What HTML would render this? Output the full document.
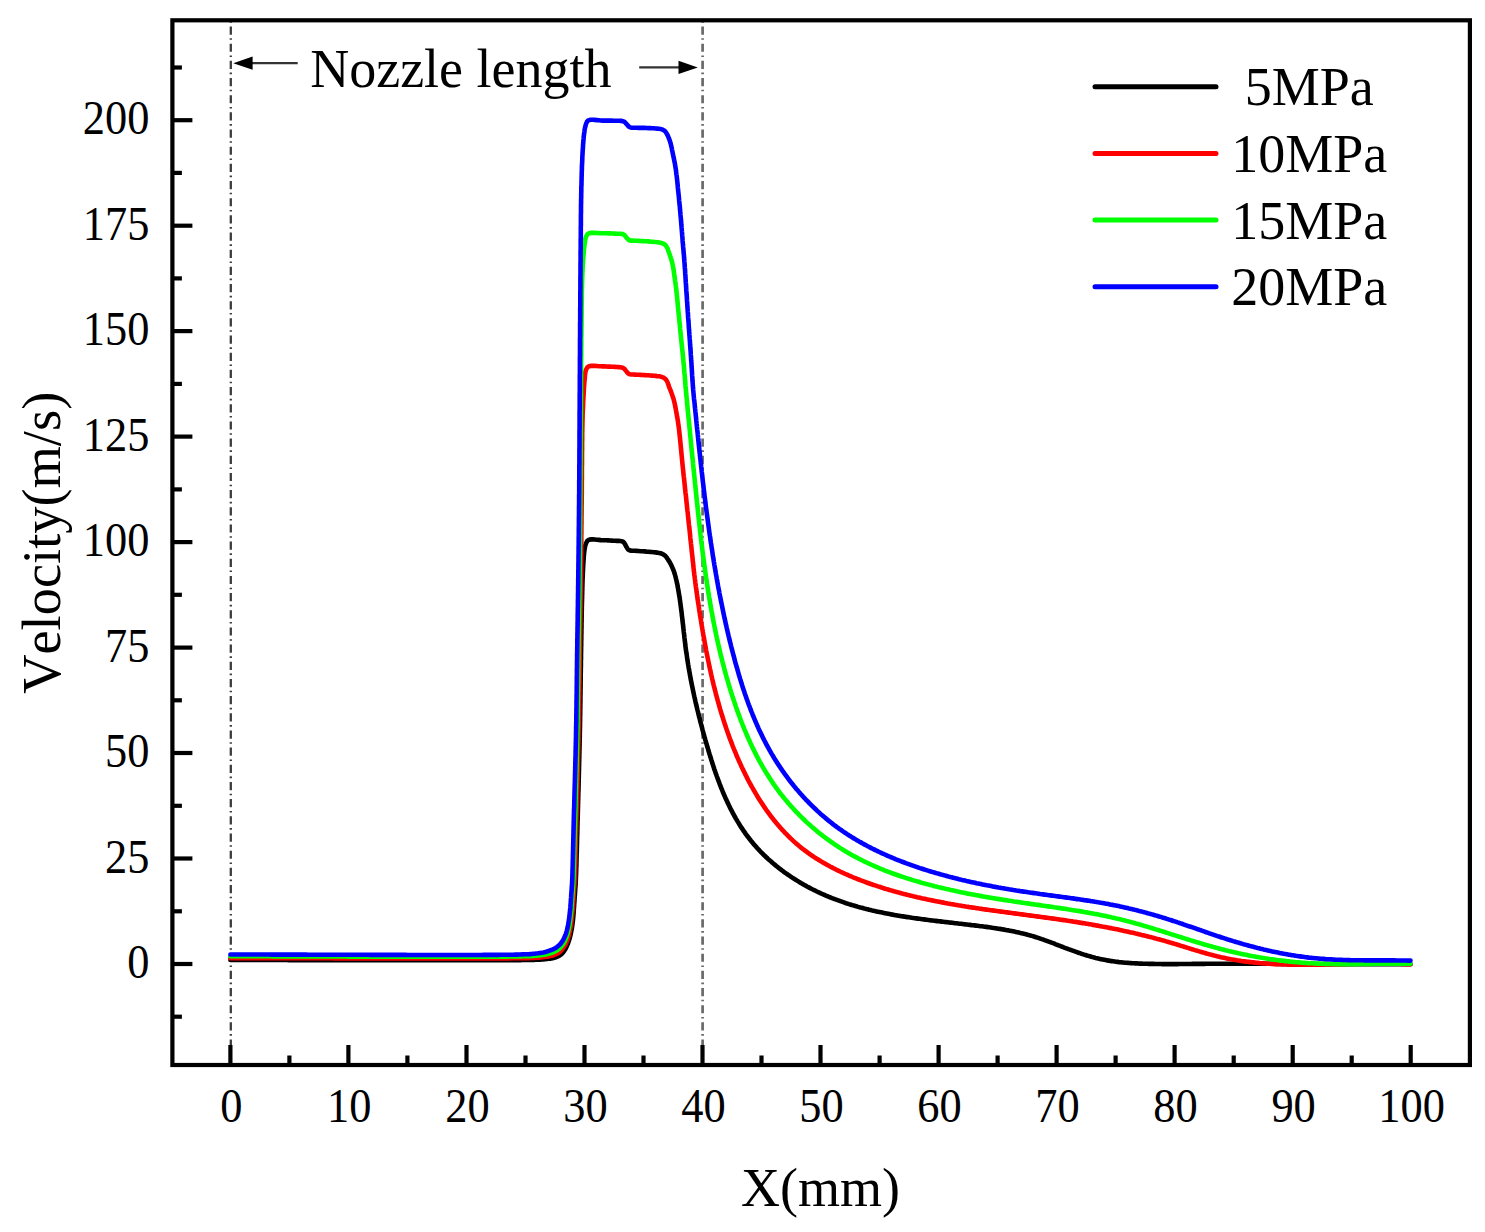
<!DOCTYPE html>
<html lang="en"><head><meta charset="utf-8"><title>Velocity along nozzle axis</title>
<style>html,body{margin:0;padding:0;background:#fff}svg{display:block}</style></head>
<body>
<svg width="1485" height="1232" viewBox="0 0 1485 1232">
<rect width="1485" height="1232" fill="#fff"/>
<line x1="230.8" y1="20.3" x2="230.8" y2="1046" stroke="#3c3c3c" stroke-width="2.3" stroke-dasharray="8.2 3.57 1.6 3.8" stroke-dashoffset="11"/>
<line x1="702.6" y1="20.3" x2="702.6" y2="1046" stroke="#6a6a6a" stroke-width="2.7" stroke-dasharray="8.2 3.57 1.6 3.8" stroke-dashoffset="11"/>
<path d="M230.4,960.0 L232.4,960.0 L234.4,960.0 L236.4,960.0 L238.5,960.0 L240.5,960.0 L242.6,960.0 L244.7,960.0 L246.8,960.0 L248.9,960.0 L251.1,960.0 L253.2,960.0 L255.4,960.0 L257.5,960.0 L259.7,960.0 L261.9,960.0 L264.1,960.0 L266.3,960.0 L268.5,960.0 L270.8,960.0 L273.0,960.0 L275.3,960.0 L277.5,960.0 L279.8,960.0 L282.1,960.0 L284.4,960.0 L286.7,960.0 L289.0,960.1 L291.3,960.1 L293.6,960.1 L295.9,960.1 L298.3,960.1 L300.6,960.1 L302.9,960.1 L305.3,960.1 L307.7,960.1 L310.0,960.1 L312.4,960.1 L314.7,960.1 L317.1,960.1 L319.5,960.1 L321.9,960.1 L324.2,960.1 L326.6,960.1 L329.0,960.1 L331.4,960.1 L333.8,960.1 L336.2,960.1 L338.6,960.1 L341.0,960.1 L343.3,960.1 L345.7,960.2 L348.1,960.2 L350.5,960.2 L352.9,960.2 L355.3,960.2 L357.7,960.2 L360.1,960.2 L362.4,960.2 L364.8,960.2 L367.2,960.2 L369.6,960.2 L371.9,960.2 L374.3,960.2 L376.6,960.2 L379.0,960.2 L381.3,960.2 L383.7,960.2 L386.0,960.2 L388.3,960.2 L390.7,960.2 L393.0,960.2 L395.3,960.2 L397.6,960.2 L399.9,960.2 L402.2,960.2 L404.5,960.2 L406.7,960.3 L409.0,960.3 L411.2,960.3 L413.5,960.3 L415.7,960.3 L417.9,960.3 L420.1,960.3 L422.3,960.3 L424.5,960.3 L426.7,960.3 L428.9,960.3 L431.0,960.3 L433.2,960.3 L435.3,960.3 L437.4,960.3 L439.5,960.3 L441.6,960.3 L443.6,960.3 L445.7,960.3 L447.7,960.3 L449.8,960.3 L451.8,960.3 L453.8,960.3 L455.7,960.3 L457.7,960.3 L459.6,960.3 L461.6,960.3 L463.5,960.3 L465.4,960.3 L467.2,960.3 L469.1,960.3 L470.9,960.3 L472.7,960.3 L474.5,960.3 L476.3,960.3 L478.1,960.3 L479.8,960.3 L481.5,960.3 L483.2,960.3 L484.9,960.3 L486.5,960.3 L488.2,960.2 L489.8,960.2 L491.4,960.2 L492.9,960.2 L494.4,960.2 L496.0,960.2 L497.4,960.2 L498.9,960.2 L500.3,960.2 L501.8,960.2 L503.1,960.2 L504.5,960.2 L505.8,960.2 L507.1,960.2 L508.4,960.2 L509.7,960.2 L510.9,960.2 L512.1,960.1 L513.3,960.1 L514.4,960.1 L515.5,960.1 L516.6,960.1 L517.7,960.1 L518.7,960.1 L519.7,960.1 L520.6,960.1 L521.6,960.0 L522.5,960.0 L523.4,960.0 L524.2,960.0 L525.0,960.0 L527.7,960.0 L530.1,959.9 L532.2,959.9 L534.0,959.9 L535.7,959.8 L537.2,959.8 L538.7,959.7 L540.1,959.6 L541.6,959.5 L543.1,959.4 L545.1,959.2 L547.1,959.0 L549.0,958.8 L550.8,958.6 L552.6,958.2 L554.2,957.8 L556.1,957.2 L558.0,956.4 L559.7,955.5 L561.2,954.4 L562.3,953.3 L563.4,952.1 L564.3,950.7 L565.2,949.3 L566.0,947.8 L566.8,946.2 L567.5,944.5 L568.2,942.8 L568.8,941.0 L569.4,939.2 L569.9,937.3 L570.4,935.5 L570.8,933.5 L571.2,931.6 L571.6,929.6 L571.9,927.8 L572.2,926.0 L572.4,924.2 L572.7,922.3 L572.9,920.4 L573.1,918.3 L573.3,916.7 L573.4,914.9 L573.6,913.2 L573.7,911.3 L573.8,909.5 L574.0,907.6 L574.1,905.7 L574.2,903.8 L574.4,901.9 L574.5,900.0 L574.6,898.3 L574.7,896.6 L574.9,894.9 L575.0,893.2 L575.1,891.6 L575.2,889.9 L575.3,888.1 L575.5,886.3 L575.6,884.3 L575.7,882.2 L575.8,880.0 L575.9,878.6 L575.9,877.1 L576.0,875.5 L576.1,873.9 L576.1,872.3 L576.2,870.6 L576.2,868.8 L576.3,867.1 L576.4,865.2 L576.4,863.4 L576.5,861.5 L576.5,859.6 L576.6,857.6 L576.6,855.7 L576.7,853.7 L576.8,851.6 L576.8,849.6 L576.9,847.5 L576.9,845.5 L577.0,843.4 L577.0,841.3 L577.1,839.1 L577.1,837.0 L577.2,834.9 L577.3,832.8 L577.3,830.6 L577.4,828.5 L577.4,826.4 L577.5,824.2 L577.5,822.1 L577.6,820.0 L577.7,818.2 L577.7,816.4 L577.8,814.5 L577.8,812.7 L577.9,810.8 L577.9,808.9 L578.0,807.0 L578.0,805.1 L578.1,803.2 L578.1,801.2 L578.2,799.3 L578.2,797.4 L578.3,795.4 L578.3,793.4 L578.4,791.4 L578.5,789.5 L578.5,787.5 L578.6,785.5 L578.6,783.5 L578.7,781.4 L578.7,779.4 L578.8,777.4 L578.8,775.4 L578.9,773.4 L578.9,771.3 L579.0,769.3 L579.0,767.3 L579.1,765.2 L579.1,763.2 L579.2,761.2 L579.2,759.1 L579.3,757.1 L579.3,755.1 L579.4,753.0 L579.4,751.0 L579.5,749.0 L579.5,747.0 L579.6,745.0 L579.6,743.0 L579.7,741.0 L579.7,739.0 L579.8,737.0 L579.8,735.0 L579.8,733.0 L579.9,731.0 L579.9,729.0 L580.0,727.0 L580.0,725.0 L580.0,723.0 L580.1,720.9 L580.1,718.9 L580.1,716.8 L580.2,714.8 L580.2,712.7 L580.2,710.7 L580.3,708.6 L580.3,706.5 L580.3,704.5 L580.4,702.4 L580.4,700.3 L580.4,698.3 L580.4,696.2 L580.5,694.2 L580.5,692.1 L580.5,690.1 L580.6,688.0 L580.6,686.0 L580.6,684.0 L580.6,682.0 L580.7,680.0 L580.7,678.0 L580.7,676.0 L580.7,674.0 L580.8,672.1 L580.8,670.2 L580.8,668.2 L580.9,666.3 L580.9,664.4 L580.9,662.6 L580.9,660.7 L581.0,658.9 L581.0,657.0 L581.0,655.3 L581.0,653.5 L581.1,651.7 L581.1,650.0 L581.1,647.8 L581.2,645.7 L581.2,643.6 L581.2,641.5 L581.3,639.4 L581.3,637.3 L581.3,635.3 L581.4,633.2 L581.4,631.2 L581.4,629.2 L581.5,627.3 L581.5,625.3 L581.5,623.4 L581.6,621.5 L581.6,619.6 L581.6,617.7 L581.7,615.9 L581.7,614.0 L581.7,612.2 L581.8,610.4 L581.8,608.6 L581.8,606.9 L581.9,605.1 L581.9,603.4 L582.0,601.7 L582.0,600.0 L582.1,597.9 L582.1,595.8 L582.2,593.8 L582.2,591.8 L582.3,589.9 L582.3,587.9 L582.4,586.0 L582.4,584.1 L582.5,582.3 L582.5,580.5 L582.6,578.7 L582.7,576.9 L582.8,575.1 L582.8,573.4 L582.9,571.7 L583.0,570.0 L583.1,568.0 L583.2,566.0 L583.3,564.0 L583.4,562.0 L583.6,560.0 L583.7,558.1 L583.8,556.3 L584.0,554.5 L584.1,552.9 L584.3,551.4 L584.5,550.0 L584.8,548.1 L585.1,546.4 L585.5,544.9 L586.0,543.5 L586.6,542.1 L587.3,540.9 L588.5,540.0 L589.7,539.6 L591.2,539.4 L592.9,539.4 L594.8,539.5 L596.8,539.7 L598.9,539.9 L600.8,540.1 L602.6,540.2 L604.4,540.3 L606.3,540.3 L608.2,540.4 L610.0,540.5 L611.8,540.6 L613.4,540.7 L615.0,540.8 L616.9,540.9 L618.6,540.9 L620.2,541.0 L621.5,541.2 L622.6,541.5 L623.6,542.2 L624.5,543.3 L625.5,545.0 L626.4,546.9 L627.4,548.5 L628.2,549.6 L629.0,550.1 L629.8,550.4 L631.2,550.6 L633.0,550.7 L635.0,550.8 L636.7,550.9 L638.5,551.0 L640.5,551.2 L642.5,551.3 L644.6,551.4 L646.5,551.6 L648.3,551.7 L650.2,551.9 L652.0,552.0 L653.8,552.2 L655.5,552.4 L657.0,552.6 L658.9,552.9 L660.5,553.3 L662.0,553.8 L663.6,554.6 L665.0,555.6 L666.3,557.0 L667.4,558.6 L668.2,559.9 L669.0,561.1 L669.8,562.3 L670.5,563.6 L671.1,564.9 L671.8,566.3 L672.4,567.6 L672.9,569.0 L673.5,570.3 L674.0,571.7 L674.4,573.1 L674.9,574.5 L675.3,576.0 L675.7,577.4 L676.0,578.8 L676.4,580.3 L676.7,581.8 L677.0,583.2 L677.4,584.7 L677.6,586.2 L677.9,587.7 L678.2,589.2 L678.4,590.7 L678.7,592.2 L678.9,593.7 L679.2,595.2 L679.4,596.7 L679.7,598.2 L679.9,599.7 L680.1,601.2 L680.3,602.7 L680.5,604.2 L680.7,605.7 L680.9,607.2 L681.1,608.7 L681.3,610.3 L681.5,611.8 L681.7,613.3 L681.8,614.8 L682.0,616.3 L682.2,617.8 L682.4,619.4 L682.5,620.9 L682.7,622.4 L682.9,623.9 L683.1,625.4 L683.2,626.9 L683.4,628.5 L683.6,630.0 L683.7,631.5 L683.9,633.0 L684.1,634.5 L684.3,636.0 L684.4,637.5 L684.6,639.0 L684.8,640.6 L685.0,642.1 L685.2,643.6 L685.3,645.1 L685.5,646.6 L685.7,648.1 L685.9,649.6 L686.1,651.1 L686.3,652.5 L686.6,654.0 L686.8,655.5 L687.0,657.0 L687.2,658.5 L687.4,660.0 L687.7,661.5 L687.9,662.9 L688.1,664.4 L688.4,665.9 L688.6,667.4 L688.9,668.8 L689.1,670.3 L689.4,671.8 L689.7,673.2 L689.9,674.7 L690.2,676.2 L690.5,677.6 L690.7,679.1 L691.0,680.5 L691.3,682.0 L691.6,683.5 L691.9,684.9 L692.2,686.4 L692.5,687.8 L692.8,689.3 L693.1,690.7 L693.4,692.2 L693.7,693.6 L694.0,695.1 L694.3,696.5 L694.7,698.0 L695.0,699.4 L695.3,700.9 L695.6,702.3 L696.0,703.8 L696.3,705.2 L696.7,706.7 L697.0,708.1 L697.3,709.5 L697.7,711.0 L698.1,712.4 L698.4,713.9 L698.8,715.3 L699.1,716.8 L699.5,718.2 L699.9,719.7 L700.2,721.1 L700.6,722.5 L701.0,724.0 L701.4,725.4 L701.8,726.9 L702.2,728.3 L702.5,729.8 L702.9,731.2 L703.3,732.6 L703.7,734.1 L704.1,735.5 L704.5,737.0 L704.9,738.4 L705.3,739.9 L705.8,741.3 L706.2,742.8 L706.6,744.2 L707.0,745.7 L707.4,747.1 L707.9,748.6 L708.3,750.0 L708.7,751.5 L709.2,752.9 L709.6,754.4 L710.1,755.8 L710.5,757.3 L711.0,758.7 L711.4,760.2 L711.9,761.6 L712.3,763.1 L712.8,764.5 L713.3,766.0 L713.8,767.4 L714.2,768.9 L714.7,770.3 L715.2,771.7 L715.7,773.2 L716.2,774.6 L716.7,776.0 L717.3,777.5 L717.8,778.9 L718.3,780.3 L718.8,781.7 L719.4,783.2 L719.9,784.6 L720.5,786.0 L721.0,787.4 L721.6,788.8 L722.2,790.2 L722.7,791.6 L723.3,793.0 L723.9,794.4 L724.5,795.8 L725.1,797.1 L725.7,798.5 L726.4,799.9 L727.0,801.3 L727.6,802.6 L728.3,804.0 L728.9,805.3 L729.6,806.7 L730.2,808.0 L730.9,809.4 L731.6,810.7 L732.3,812.0 L733.0,813.4 L733.7,814.7 L734.4,816.0 L735.2,817.3 L735.9,818.6 L736.7,819.9 L737.4,821.1 L738.2,822.4 L739.0,823.7 L739.7,825.0 L740.5,826.2 L741.3,827.5 L742.2,828.7 L743.0,829.9 L743.8,831.2 L744.7,832.4 L745.5,833.6 L746.4,834.8 L747.3,836.0 L748.2,837.2 L749.1,838.3 L750.0,839.5 L750.9,840.7 L751.8,841.8 L752.8,843.0 L753.7,844.1 L754.7,845.2 L755.7,846.3 L756.7,847.5 L757.7,848.6 L758.7,849.6 L759.7,850.7 L760.7,851.8 L761.8,852.9 L762.8,853.9 L763.9,855.0 L765.0,856.0 L766.0,857.0 L767.1,858.0 L768.2,859.1 L769.3,860.1 L770.5,861.1 L771.6,862.0 L772.7,863.0 L773.9,864.0 L775.0,864.9 L776.2,865.9 L777.3,866.8 L778.5,867.8 L779.7,868.7 L780.9,869.6 L782.1,870.5 L783.3,871.4 L784.5,872.3 L785.7,873.1 L786.9,874.0 L788.2,874.9 L789.4,875.7 L790.7,876.6 L791.9,877.4 L793.2,878.2 L794.4,879.0 L795.7,879.8 L797.0,880.6 L798.3,881.4 L799.6,882.2 L800.9,883.0 L802.2,883.7 L803.5,884.5 L804.8,885.2 L806.1,885.9 L807.4,886.7 L808.8,887.4 L810.1,888.1 L811.4,888.8 L812.8,889.5 L814.1,890.1 L815.5,890.8 L816.8,891.5 L818.2,892.1 L819.5,892.7 L820.9,893.4 L822.3,894.0 L823.7,894.6 L825.0,895.2 L826.4,895.8 L827.8,896.4 L829.2,897.0 L830.6,897.5 L832.0,898.1 L833.4,898.6 L834.8,899.2 L836.2,899.7 L837.6,900.2 L839.0,900.7 L840.4,901.2 L841.8,901.7 L843.2,902.2 L844.6,902.7 L846.1,903.2 L847.5,903.6 L848.9,904.1 L850.3,904.5 L851.8,905.0 L853.2,905.4 L854.6,905.8 L856.1,906.2 L857.5,906.7 L859.0,907.1 L860.4,907.5 L861.9,907.8 L863.3,908.2 L864.8,908.6 L866.2,909.0 L867.7,909.3 L869.1,909.7 L870.6,910.0 L872.0,910.4 L873.5,910.7 L875.0,911.1 L876.4,911.4 L877.9,911.7 L879.4,912.0 L880.8,912.3 L882.3,912.6 L883.8,912.9 L885.2,913.2 L886.7,913.5 L888.2,913.8 L889.7,914.1 L891.2,914.4 L892.6,914.6 L894.1,914.9 L895.6,915.2 L897.1,915.4 L898.6,915.7 L900.0,915.9 L901.5,916.2 L903.0,916.4 L904.5,916.6 L906.0,916.9 L907.5,917.1 L909.0,917.3 L910.4,917.5 L911.9,917.8 L913.4,918.0 L914.9,918.2 L916.4,918.4 L917.9,918.6 L919.4,918.8 L920.9,919.0 L922.4,919.2 L923.9,919.4 L925.4,919.6 L926.8,919.8 L928.3,920.0 L929.8,920.2 L931.3,920.4 L932.8,920.5 L934.3,920.7 L935.8,920.9 L937.3,921.1 L938.8,921.3 L940.3,921.4 L941.7,921.6 L943.2,921.8 L944.7,922.0 L946.2,922.1 L947.7,922.3 L949.2,922.5 L950.7,922.6 L952.2,922.8 L953.7,923.0 L955.1,923.2 L956.6,923.3 L958.1,923.5 L959.6,923.7 L961.1,923.8 L962.6,924.0 L964.1,924.2 L965.6,924.4 L967.0,924.5 L968.5,924.7 L970.0,924.9 L971.5,925.1 L973.0,925.2 L974.5,925.4 L976.0,925.6 L977.5,925.8 L978.9,926.0 L980.4,926.2 L981.9,926.3 L983.4,926.5 L984.9,926.7 L986.4,926.9 L987.8,927.1 L989.3,927.3 L990.8,927.5 L992.3,927.8 L993.8,928.0 L995.3,928.2 L996.7,928.4 L998.2,928.7 L999.7,928.9 L1001.2,929.1 L1002.6,929.4 L1004.1,929.6 L1005.6,929.9 L1007.1,930.2 L1008.5,930.4 L1010.0,930.7 L1011.5,931.0 L1012.9,931.3 L1014.4,931.6 L1015.8,931.9 L1017.3,932.2 L1018.8,932.5 L1020.2,932.9 L1021.7,933.2 L1023.1,933.6 L1024.6,933.9 L1026.0,934.3 L1027.5,934.7 L1028.9,935.1 L1030.3,935.5 L1031.8,935.9 L1033.2,936.3 L1034.6,936.7 L1036.1,937.2 L1037.5,937.6 L1038.9,938.1 L1040.3,938.6 L1041.8,939.1 L1043.2,939.5 L1044.6,940.1 L1046.0,940.6 L1047.4,941.1 L1048.8,941.6 L1050.2,942.1 L1051.6,942.7 L1053.0,943.2 L1054.4,943.7 L1055.8,944.3 L1057.2,944.8 L1058.6,945.4 L1060.0,945.9 L1061.4,946.5 L1062.9,947.0 L1064.3,947.6 L1065.7,948.1 L1067.1,948.6 L1068.5,949.2 L1069.9,949.7 L1071.3,950.2 L1072.7,950.7 L1074.1,951.2 L1075.5,951.7 L1076.9,952.2 L1078.4,952.7 L1079.8,953.2 L1081.2,953.7 L1082.6,954.1 L1084.1,954.6 L1085.5,955.0 L1086.9,955.5 L1088.3,955.9 L1089.8,956.3 L1091.2,956.7 L1092.7,957.1 L1094.1,957.5 L1095.5,957.9 L1097.0,958.2 L1098.4,958.6 L1099.9,958.9 L1101.3,959.2 L1102.8,959.5 L1104.3,959.8 L1105.7,960.1 L1107.2,960.4 L1108.7,960.6 L1110.1,960.9 L1111.6,961.1 L1113.1,961.3 L1114.6,961.5 L1116.0,961.7 L1117.5,961.9 L1119.0,962.1 L1120.5,962.2 L1122.0,962.4 L1123.5,962.5 L1125.0,962.7 L1126.5,962.8 L1128.0,962.9 L1129.5,963.0 L1130.9,963.1 L1132.4,963.2 L1133.9,963.3 L1135.4,963.4 L1136.9,963.4 L1138.4,963.5 L1139.9,963.6 L1141.5,963.6 L1143.0,963.7 L1144.5,963.7 L1146.0,963.8 L1147.5,963.8 L1149.0,963.9 L1150.5,963.9 L1152.0,963.9 L1153.5,963.9 L1155.0,964.0 L1156.5,964.0 L1158.0,964.0 L1159.5,964.0 L1161.0,964.0 L1162.5,964.1 L1164.0,964.1 L1165.5,964.1 L1167.0,964.1 L1168.5,964.1 L1170.0,964.1 L1171.5,964.1 L1173.0,964.1 L1174.5,964.1 L1176.0,964.1 L1177.5,964.1 L1179.0,964.0 L1180.5,964.0 L1182.0,964.0 L1183.5,964.0 L1185.0,964.0 L1186.5,964.0 L1188.0,964.0 L1189.5,964.0 L1191.1,964.0 L1192.6,963.9 L1194.1,963.9 L1195.6,963.9 L1197.1,963.9 L1198.6,963.9 L1200.1,963.9 L1201.6,963.9 L1203.1,963.9 L1204.6,963.9 L1206.1,963.8 L1207.6,963.8 L1209.1,963.8 L1210.6,963.8 L1212.1,963.8 L1213.6,963.8 L1215.1,963.8 L1216.6,963.8 L1218.1,963.8 L1219.6,963.8 L1221.1,963.8 L1222.6,963.8 L1224.1,963.8 L1225.6,963.8 L1227.1,963.8 L1228.6,963.8 L1230.1,963.8 L1231.6,963.8 L1233.1,963.8 L1234.6,963.8 L1236.1,963.8 L1237.6,963.8 L1239.1,963.8 L1240.6,963.8 L1242.1,963.8 L1243.6,963.8 L1245.1,963.8 L1246.6,963.8 L1248.1,963.8 L1249.6,963.8 L1251.1,963.8 L1252.6,963.8 L1254.1,963.8 L1255.6,963.8 L1257.1,963.8 L1258.6,963.8 L1260.1,963.8 L1261.6,963.8 L1263.1,963.8 L1264.6,963.8 L1266.1,963.8 L1267.6,963.8 L1269.1,963.8 L1270.6,963.8 L1272.1,963.8 L1273.6,963.8 L1275.1,963.8 L1276.6,963.9 L1278.1,963.9 L1279.6,963.9 L1281.1,963.9 L1282.6,963.9 L1284.1,963.9 L1285.6,963.9 L1287.1,963.9 L1288.6,963.9 L1290.1,963.9 L1291.6,963.9 L1293.1,963.9 L1294.6,963.9 L1296.1,963.9 L1297.6,964.0 L1299.1,964.0 L1300.6,964.0 L1302.1,964.0 L1303.6,964.0 L1305.1,964.0 L1306.6,964.0 L1308.1,964.0 L1309.6,964.0 L1311.1,964.0 L1312.6,964.0 L1314.1,964.0 L1315.6,964.0 L1317.1,964.1 L1318.6,964.1 L1320.1,964.1 L1321.6,964.1 L1323.1,964.1 L1324.6,964.1 L1326.0,964.1 L1327.5,964.1 L1329.0,964.1 L1330.5,964.1 L1332.0,964.1 L1333.5,964.1 L1335.0,964.1 L1336.5,964.1 L1338.0,964.2 L1339.5,964.2 L1341.0,964.2 L1342.5,964.2 L1344.0,964.2 L1345.5,964.2 L1347.0,964.2 L1348.5,964.2 L1350.0,964.2 L1351.5,964.2 L1353.0,964.2 L1354.5,964.2 L1356.0,964.2 L1357.5,964.2 L1359.0,964.2 L1360.5,964.2 L1362.0,964.2 L1363.5,964.2 L1365.0,964.2 L1366.5,964.2 L1368.0,964.3 L1369.5,964.3 L1371.0,964.3 L1372.5,964.3 L1374.0,964.3 L1375.5,964.3 L1377.0,964.3 L1378.5,964.3 L1380.0,964.3 L1381.5,964.3 L1383.0,964.3 L1384.5,964.3 L1386.0,964.3 L1387.5,964.3 L1389.0,964.3 L1390.5,964.3 L1392.0,964.3 L1393.5,964.3 L1395.0,964.3 L1396.5,964.2 L1398.0,964.2 L1399.5,964.2 L1401.0,964.2 L1402.6,964.2 L1404.1,964.2 L1405.6,964.2 L1407.1,964.2 L1408.7,964.2 L1410.1,964.2 L1410.3,964.2 L1410.5,964.2" fill="none" stroke="#000000" stroke-width="4.6" stroke-linecap="round" stroke-linejoin="round"/>
<path d="M230.4,958.2 L232.4,958.2 L234.4,958.2 L236.5,958.2 L238.5,958.2 L240.6,958.2 L242.6,958.2 L244.7,958.2 L246.8,958.2 L249.0,958.2 L251.1,958.2 L253.2,958.2 L255.4,958.2 L257.6,958.2 L259.8,958.2 L262.0,958.2 L264.2,958.2 L266.4,958.2 L268.6,958.2 L270.9,958.2 L273.1,958.2 L275.4,958.2 L277.6,958.2 L279.9,958.2 L282.2,958.2 L284.5,958.3 L286.8,958.3 L289.1,958.3 L291.4,958.3 L293.8,958.3 L296.1,958.3 L298.4,958.3 L300.8,958.3 L303.1,958.3 L305.5,958.3 L307.8,958.3 L310.2,958.3 L312.6,958.3 L315.0,958.3 L317.3,958.3 L319.7,958.3 L322.1,958.3 L324.5,958.3 L326.9,958.3 L329.3,958.3 L331.7,958.3 L334.1,958.4 L336.4,958.4 L338.8,958.4 L341.2,958.4 L343.6,958.4 L346.0,958.4 L348.4,958.4 L350.8,958.4 L353.2,958.4 L355.6,958.4 L358.0,958.4 L360.4,958.4 L362.8,958.4 L365.2,958.4 L367.5,958.4 L369.9,958.4 L372.3,958.4 L374.6,958.4 L377.0,958.4 L379.4,958.4 L381.7,958.5 L384.1,958.5 L386.4,958.5 L388.7,958.5 L391.1,958.5 L393.4,958.5 L395.7,958.5 L398.0,958.5 L400.3,958.5 L402.6,958.5 L404.8,958.5 L407.1,958.5 L409.4,958.5 L411.6,958.5 L413.9,958.5 L416.1,958.5 L418.3,958.5 L420.5,958.5 L422.7,958.5 L424.9,958.5 L427.1,958.5 L429.2,958.5 L431.4,958.5 L433.5,958.5 L435.6,958.5 L437.7,958.5 L439.8,958.5 L441.9,958.5 L444.0,958.5 L446.0,958.5 L448.1,958.5 L450.1,958.5 L452.1,958.5 L454.1,958.5 L456.0,958.5 L458.0,958.5 L459.9,958.5 L461.8,958.5 L463.7,958.5 L465.6,958.5 L467.5,958.5 L469.3,958.5 L471.1,958.5 L472.9,958.5 L474.7,958.5 L476.5,958.5 L478.2,958.5 L479.9,958.5 L481.6,958.5 L483.3,958.5 L485.0,958.5 L486.6,958.5 L488.2,958.5 L489.8,958.5 L491.3,958.5 L492.9,958.5 L494.4,958.5 L495.9,958.4 L497.3,958.4 L498.8,958.4 L500.2,958.4 L501.6,958.4 L502.9,958.4 L504.3,958.4 L505.6,958.4 L506.8,958.4 L508.1,958.4 L509.3,958.4 L510.5,958.3 L511.7,958.3 L512.8,958.3 L513.9,958.3 L515.0,958.3 L516.1,958.3 L517.1,958.3 L518.1,958.3 L519.0,958.2 L519.9,958.2 L520.8,958.2 L521.7,958.2 L522.5,958.2 L523.3,958.2 L526.2,958.1 L528.7,958.1 L530.9,958.0 L532.7,957.9 L534.4,957.9 L536.0,957.8 L537.5,957.7 L539.1,957.6 L540.7,957.4 L542.8,957.2 L544.7,957.0 L546.6,956.8 L548.4,956.5 L550.1,956.1 L551.8,955.7 L553.5,955.2 L555.0,954.6 L556.6,953.9 L558.0,953.2 L559.3,952.3 L560.5,951.2 L561.6,950.1 L562.6,948.8 L563.6,947.4 L564.5,946.0 L565.4,944.5 L566.2,942.8 L566.9,941.1 L567.6,939.3 L568.2,937.5 L568.7,935.9 L569.1,934.2 L569.5,932.5 L569.9,930.9 L570.2,929.1 L570.5,927.4 L570.8,925.6 L571.1,923.7 L571.4,921.8 L571.6,919.9 L571.8,917.9 L572.1,915.9 L572.2,914.1 L572.4,912.3 L572.6,910.4 L572.7,908.4 L572.9,906.4 L573.0,904.4 L573.1,902.4 L573.3,900.4 L573.4,898.5 L573.5,896.7 L573.7,895.0 L573.8,893.3 L573.9,891.6 L574.0,889.9 L574.1,888.2 L574.3,886.3 L574.4,884.4 L574.5,882.3 L574.6,880.0 L574.7,878.6 L574.7,877.1 L574.8,875.6 L574.8,874.0 L574.9,872.4 L575.0,870.7 L575.0,869.0 L575.1,867.2 L575.1,865.4 L575.2,863.6 L575.3,861.7 L575.3,859.8 L575.4,857.8 L575.4,855.8 L575.5,853.8 L575.5,851.8 L575.6,849.7 L575.6,847.7 L575.7,845.6 L575.7,843.5 L575.8,841.3 L575.8,839.2 L575.9,837.1 L575.9,834.9 L576.0,832.8 L576.1,830.6 L576.1,828.5 L576.2,826.4 L576.2,824.2 L576.3,822.1 L576.3,820.0 L576.4,818.2 L576.4,816.4 L576.5,814.5 L576.5,812.7 L576.6,810.8 L576.6,808.9 L576.7,807.0 L576.7,805.1 L576.8,803.2 L576.9,801.2 L576.9,799.3 L577.0,797.4 L577.0,795.4 L577.1,793.4 L577.1,791.4 L577.2,789.5 L577.2,787.5 L577.3,785.5 L577.3,783.5 L577.4,781.4 L577.5,779.4 L577.5,777.4 L577.6,775.4 L577.6,773.4 L577.7,771.3 L577.7,769.3 L577.8,767.3 L577.8,765.2 L577.9,763.2 L577.9,761.2 L578.0,759.1 L578.0,757.1 L578.1,755.1 L578.1,753.0 L578.2,751.0 L578.2,749.0 L578.3,747.0 L578.3,745.0 L578.4,743.0 L578.4,741.0 L578.5,739.0 L578.5,737.0 L578.5,735.0 L578.6,733.0 L578.6,731.0 L578.7,729.1 L578.7,727.1 L578.7,725.1 L578.8,723.1 L578.8,721.1 L578.8,719.1 L578.9,717.1 L578.9,715.1 L578.9,713.1 L579.0,711.1 L579.0,709.1 L579.0,707.1 L579.0,705.1 L579.1,703.1 L579.1,701.1 L579.1,699.1 L579.2,697.2 L579.2,695.2 L579.2,693.2 L579.2,691.2 L579.3,689.2 L579.3,687.2 L579.3,685.2 L579.4,683.2 L579.4,681.2 L579.4,679.3 L579.4,677.3 L579.5,675.3 L579.5,673.3 L579.5,671.4 L579.5,669.4 L579.6,667.4 L579.6,665.5 L579.6,663.5 L579.6,661.6 L579.7,659.6 L579.7,657.7 L579.7,655.8 L579.7,653.8 L579.8,651.9 L579.8,650.0 L579.8,648.0 L579.9,645.9 L579.9,643.9 L579.9,641.9 L580.0,639.9 L580.0,637.9 L580.0,635.9 L580.0,633.9 L580.1,631.9 L580.1,629.9 L580.1,627.9 L580.2,626.0 L580.2,624.0 L580.2,622.0 L580.3,620.1 L580.3,618.1 L580.3,616.1 L580.3,614.2 L580.4,612.2 L580.4,610.2 L580.4,608.3 L580.5,606.3 L580.5,604.4 L580.5,602.4 L580.5,600.5 L580.6,598.5 L580.6,596.6 L580.6,594.6 L580.7,592.7 L580.7,590.7 L580.7,588.8 L580.7,586.8 L580.8,584.8 L580.8,582.9 L580.8,580.9 L580.8,578.9 L580.9,577.0 L580.9,575.0 L580.9,573.0 L580.9,571.1 L581.0,569.1 L581.0,567.1 L581.0,565.1 L581.0,563.2 L581.1,561.2 L581.1,559.3 L581.1,557.3 L581.1,555.3 L581.2,553.4 L581.2,551.4 L581.2,549.4 L581.2,547.5 L581.2,545.5 L581.3,543.5 L581.3,541.6 L581.3,539.6 L581.3,537.7 L581.3,535.7 L581.4,533.7 L581.4,531.7 L581.4,529.8 L581.4,527.8 L581.4,525.8 L581.5,523.9 L581.5,521.9 L581.5,519.9 L581.5,517.9 L581.5,515.9 L581.6,514.0 L581.6,512.0 L581.6,510.0 L581.6,508.0 L581.6,506.0 L581.7,504.0 L581.7,502.0 L581.7,500.0 L581.7,498.1 L581.7,496.1 L581.8,494.1 L581.8,492.1 L581.8,490.1 L581.8,488.0 L581.8,485.9 L581.8,483.9 L581.8,481.8 L581.9,479.6 L581.9,477.5 L581.9,475.4 L581.9,473.3 L581.9,471.1 L581.9,469.0 L581.9,466.9 L582.0,464.7 L582.0,462.6 L582.0,460.5 L582.0,458.4 L582.0,456.3 L582.0,454.2 L582.0,452.1 L582.1,450.1 L582.1,448.1 L582.1,446.0 L582.1,444.1 L582.1,442.1 L582.2,440.2 L582.2,438.3 L582.2,436.4 L582.2,434.6 L582.2,432.8 L582.3,431.0 L582.3,429.3 L582.3,427.6 L582.4,426.0 L582.4,424.4 L582.4,422.9 L582.5,421.4 L582.5,420.0 L582.6,417.6 L582.6,415.3 L582.7,413.1 L582.8,411.1 L582.9,409.1 L583.0,407.1 L583.1,405.3 L583.1,403.5 L583.2,401.8 L583.3,400.0 L583.4,398.4 L583.5,396.7 L583.6,395.0 L583.7,392.9 L583.8,390.9 L583.9,389.0 L584.0,387.1 L584.2,385.2 L584.3,383.4 L584.4,381.7 L584.6,380.0 L584.8,378.1 L584.9,376.3 L585.1,374.5 L585.3,372.8 L585.6,371.3 L586.0,370.0 L586.6,368.6 L587.3,367.4 L588.5,366.5 L589.7,366.1 L591.2,365.9 L592.9,365.8 L594.8,365.9 L596.8,366.0 L598.8,366.2 L600.8,366.3 L602.6,366.4 L604.4,366.4 L606.3,366.5 L608.2,366.6 L610.0,366.6 L611.8,366.7 L613.4,366.8 L615.0,366.9 L616.9,367.0 L618.6,367.1 L620.2,367.2 L621.5,367.4 L622.6,367.7 L623.6,368.2 L624.8,369.3 L626.0,370.9 L627.3,372.5 L628.4,373.6 L629.2,374.1 L630.0,374.3 L631.4,374.5 L633.1,374.5 L635.0,374.6 L636.6,374.7 L638.5,374.8 L640.5,374.9 L642.5,375.0 L644.6,375.1 L646.5,375.2 L648.3,375.3 L650.2,375.5 L652.0,375.6 L653.8,375.8 L655.5,375.9 L657.0,376.1 L658.9,376.3 L660.5,376.6 L662.0,377.0 L663.6,377.7 L665.0,378.6 L666.2,379.9 L667.2,381.6 L667.9,383.1 L668.4,384.8 L669.0,386.6 L669.6,388.1 L670.2,389.7 L670.9,391.4 L671.5,393.0 L672.1,394.7 L672.7,396.4 L673.3,398.2 L673.8,400.0 L674.2,401.6 L674.6,403.3 L675.0,405.0 L675.3,406.8 L675.7,408.8 L676.0,410.4 L676.3,412.0 L676.6,413.7 L676.9,415.5 L677.2,417.3 L677.6,419.3 L677.9,421.3 L678.2,423.3 L678.5,425.4 L678.8,427.6 L679.0,429.3 L679.2,431.0 L679.4,432.8 L679.6,434.7 L679.8,436.6 L680.0,438.5 L680.2,440.5 L680.4,442.5 L680.6,444.6 L680.8,446.6 L681.0,448.7 L681.2,450.8 L681.4,452.9 L681.6,455.0 L681.8,457.1 L682.0,459.1 L682.2,461.2 L682.4,463.2 L682.6,465.2 L682.8,467.2 L683.0,469.1 L683.2,471.1 L683.4,473.1 L683.6,475.1 L683.8,477.0 L684.1,479.0 L684.3,481.0 L684.5,482.9 L684.7,484.9 L684.9,486.9 L685.1,488.9 L685.3,490.8 L685.5,492.8 L685.8,494.8 L686.0,496.8 L686.2,498.7 L686.4,500.7 L686.6,502.7 L686.8,504.6 L687.0,506.6 L687.2,508.5 L687.4,510.5 L687.7,512.5 L687.9,514.6 L688.1,516.6 L688.3,518.6 L688.5,520.6 L688.7,522.6 L688.9,524.6 L689.2,526.6 L689.4,528.5 L689.6,530.4 L689.8,532.3 L690.0,534.2 L690.2,536.0 L690.3,537.7 L690.5,539.4 L690.7,541.0 L690.9,543.2 L691.2,545.4 L691.4,547.4 L691.6,549.4 L691.8,551.4 L692.0,553.3 L692.2,555.1 L692.4,556.9 L692.6,558.6 L692.7,560.4 L693.0,562.3 L693.2,564.1 L693.3,565.8 L693.5,567.5 L693.7,569.2 L693.9,570.9 L694.1,572.6 L694.3,574.6 L694.6,576.5 L694.8,578.5 L695.1,580.4 L695.3,582.3 L695.6,584.3 L695.8,586.3 L696.1,588.2 L696.4,590.2 L696.6,592.2 L696.9,594.2 L697.2,596.1 L697.4,597.9 L697.7,599.8 L698.0,601.7 L698.3,603.6 L698.6,605.3 L698.8,606.9 L699.0,608.2 L699.2,609.8 L699.4,611.1 L699.7,612.6 L699.9,614.1 L700.1,615.6 L700.4,617.1 L700.6,618.6 L700.9,620.0 L701.1,621.5 L701.3,623.0 L701.6,624.5 L701.8,626.0 L702.1,627.4 L702.3,628.9 L702.6,630.4 L702.8,631.9 L703.1,633.4 L703.3,634.9 L703.6,636.3 L703.9,637.8 L704.1,639.3 L704.4,640.8 L704.7,642.2 L704.9,643.7 L705.2,645.2 L705.5,646.7 L705.8,648.2 L706.0,649.6 L706.3,651.1 L706.6,652.6 L706.9,654.1 L707.2,655.5 L707.5,657.0 L707.8,658.5 L708.1,659.9 L708.4,661.4 L708.7,662.9 L709.0,664.4 L709.3,665.8 L709.6,667.3 L709.9,668.8 L710.3,670.2 L710.6,671.7 L710.9,673.2 L711.2,674.6 L711.6,676.1 L711.9,677.6 L712.2,679.0 L712.6,680.5 L712.9,681.9 L713.3,683.4 L713.6,684.8 L714.0,686.3 L714.4,687.8 L714.7,689.2 L715.1,690.7 L715.5,692.1 L715.8,693.6 L716.2,695.0 L716.6,696.5 L717.0,697.9 L717.4,699.4 L717.8,700.8 L718.2,702.2 L718.6,703.7 L719.0,705.1 L719.4,706.6 L719.8,708.0 L720.2,709.4 L720.7,710.9 L721.1,712.3 L721.5,713.8 L722.0,715.2 L722.4,716.6 L722.9,718.0 L723.3,719.5 L723.8,720.9 L724.2,722.3 L724.7,723.7 L725.2,725.2 L725.6,726.6 L726.1,728.0 L726.6,729.4 L727.1,730.8 L727.6,732.2 L728.1,733.7 L728.6,735.1 L729.1,736.5 L729.6,737.9 L730.1,739.3 L730.7,740.7 L731.2,742.1 L731.7,743.5 L732.3,744.9 L732.8,746.3 L733.4,747.7 L733.9,749.1 L734.5,750.4 L735.1,751.8 L735.7,753.2 L736.2,754.6 L736.8,756.0 L737.4,757.4 L738.0,758.7 L738.6,760.1 L739.2,761.5 L739.9,762.9 L740.5,764.2 L741.1,765.6 L741.7,767.0 L742.4,768.3 L743.0,769.7 L743.7,771.0 L744.3,772.4 L745.0,773.7 L745.7,775.1 L746.4,776.4 L747.0,777.8 L747.7,779.1 L748.4,780.5 L749.1,781.8 L749.8,783.1 L750.6,784.5 L751.3,785.8 L752.0,787.1 L752.8,788.4 L753.5,789.7 L754.3,791.0 L755.0,792.3 L755.8,793.6 L756.6,794.9 L757.3,796.2 L758.1,797.5 L758.9,798.8 L759.7,800.1 L760.5,801.3 L761.4,802.6 L762.2,803.8 L763.0,805.1 L763.8,806.3 L764.7,807.6 L765.5,808.8 L766.4,810.1 L767.3,811.3 L768.2,812.5 L769.0,813.7 L769.9,814.9 L770.8,816.1 L771.7,817.3 L772.7,818.5 L773.6,819.6 L774.5,820.8 L775.5,822.0 L776.4,823.1 L777.4,824.3 L778.3,825.4 L779.3,826.5 L780.3,827.6 L781.3,828.8 L782.3,829.9 L783.3,830.9 L784.3,832.0 L785.3,833.1 L786.4,834.2 L787.4,835.2 L788.4,836.3 L789.5,837.3 L790.6,838.4 L791.7,839.4 L792.7,840.4 L793.8,841.4 L794.9,842.4 L796.0,843.4 L797.2,844.3 L798.3,845.3 L799.4,846.2 L800.6,847.2 L801.7,848.1 L802.9,849.0 L804.1,849.9 L805.3,850.8 L806.5,851.7 L807.7,852.6 L808.9,853.5 L810.1,854.3 L811.3,855.2 L812.6,856.0 L813.8,856.8 L815.0,857.6 L816.3,858.5 L817.6,859.2 L818.8,860.0 L820.1,860.8 L821.4,861.6 L822.7,862.4 L824.0,863.1 L825.3,863.8 L826.6,864.6 L827.9,865.3 L829.2,866.0 L830.5,866.7 L831.9,867.4 L833.2,868.1 L834.6,868.8 L835.9,869.5 L837.3,870.2 L838.6,870.8 L840.0,871.5 L841.3,872.1 L842.7,872.7 L844.1,873.4 L845.5,874.0 L846.9,874.6 L848.2,875.2 L849.6,875.8 L851.0,876.4 L852.4,877.0 L853.8,877.6 L855.2,878.1 L856.6,878.7 L858.0,879.3 L859.5,879.8 L860.9,880.4 L862.3,880.9 L863.7,881.4 L865.1,881.9 L866.6,882.5 L868.0,883.0 L869.4,883.5 L870.8,884.0 L872.3,884.5 L873.7,885.0 L875.1,885.4 L876.6,885.9 L878.0,886.4 L879.4,886.8 L880.9,887.3 L882.3,887.8 L883.7,888.2 L885.2,888.7 L886.6,889.1 L888.1,889.5 L889.5,890.0 L890.9,890.4 L892.4,890.8 L893.8,891.2 L895.3,891.6 L896.7,892.0 L898.2,892.4 L899.6,892.8 L901.1,893.2 L902.5,893.6 L904.0,894.0 L905.4,894.3 L906.9,894.7 L908.3,895.1 L909.8,895.4 L911.2,895.8 L912.7,896.1 L914.2,896.5 L915.6,896.8 L917.1,897.2 L918.5,897.5 L920.0,897.8 L921.5,898.2 L922.9,898.5 L924.4,898.8 L925.8,899.1 L927.3,899.4 L928.8,899.7 L930.2,900.0 L931.7,900.4 L933.2,900.6 L934.6,900.9 L936.1,901.2 L937.6,901.5 L939.0,901.8 L940.5,902.1 L942.0,902.4 L943.5,902.6 L944.9,902.9 L946.4,903.2 L947.9,903.5 L949.3,903.7 L950.8,904.0 L952.3,904.2 L953.8,904.5 L955.2,904.8 L956.7,905.0 L958.2,905.3 L959.7,905.5 L961.2,905.7 L962.6,906.0 L964.1,906.2 L965.6,906.5 L967.1,906.7 L968.5,906.9 L970.0,907.2 L971.5,907.4 L973.0,907.6 L974.5,907.8 L975.9,908.1 L977.4,908.3 L978.9,908.5 L980.4,908.7 L981.9,908.9 L983.4,909.2 L984.8,909.4 L986.3,909.6 L987.8,909.8 L989.3,910.0 L990.8,910.2 L992.3,910.4 L993.7,910.6 L995.2,910.8 L996.7,911.0 L998.2,911.2 L999.7,911.4 L1001.2,911.6 L1002.7,911.8 L1004.1,912.0 L1005.6,912.2 L1007.1,912.4 L1008.6,912.6 L1010.1,912.8 L1011.6,913.0 L1013.1,913.2 L1014.5,913.4 L1016.0,913.6 L1017.5,913.8 L1019.0,914.0 L1020.5,914.2 L1022.0,914.4 L1023.5,914.6 L1024.9,914.8 L1026.4,915.0 L1027.9,915.2 L1029.4,915.4 L1030.9,915.6 L1032.4,915.8 L1033.9,916.0 L1035.4,916.2 L1036.8,916.4 L1038.3,916.6 L1039.8,916.8 L1041.3,917.0 L1042.8,917.2 L1044.3,917.4 L1045.8,917.6 L1047.2,917.8 L1048.7,918.0 L1050.2,918.2 L1051.7,918.4 L1053.2,918.6 L1054.7,918.8 L1056.1,919.0 L1057.6,919.2 L1059.1,919.4 L1060.6,919.7 L1062.1,919.9 L1063.6,920.1 L1065.0,920.3 L1066.5,920.5 L1068.0,920.8 L1069.5,921.0 L1071.0,921.2 L1072.5,921.4 L1073.9,921.7 L1075.4,921.9 L1076.9,922.1 L1078.4,922.4 L1079.9,922.6 L1081.3,922.9 L1082.8,923.1 L1084.3,923.3 L1085.8,923.6 L1087.2,923.8 L1088.7,924.1 L1090.2,924.3 L1091.7,924.6 L1093.2,924.9 L1094.6,925.1 L1096.1,925.4 L1097.6,925.6 L1099.1,925.9 L1100.5,926.2 L1102.0,926.5 L1103.5,926.7 L1104.9,927.0 L1106.4,927.3 L1107.9,927.6 L1109.4,927.9 L1110.8,928.1 L1112.3,928.4 L1113.8,928.7 L1115.2,929.0 L1116.7,929.3 L1118.2,929.6 L1119.6,929.9 L1121.1,930.2 L1122.6,930.6 L1124.0,930.9 L1125.5,931.2 L1126.9,931.5 L1128.4,931.8 L1129.9,932.2 L1131.3,932.5 L1132.8,932.8 L1134.2,933.1 L1135.7,933.5 L1137.2,933.8 L1138.6,934.2 L1140.1,934.5 L1141.5,934.9 L1143.0,935.2 L1144.4,935.6 L1145.9,935.9 L1147.4,936.3 L1148.8,936.7 L1150.3,937.0 L1151.7,937.4 L1153.2,937.8 L1154.6,938.2 L1156.1,938.6 L1157.5,939.0 L1158.9,939.3 L1160.4,939.7 L1161.8,940.1 L1163.3,940.5 L1164.7,940.9 L1166.2,941.4 L1167.6,941.8 L1169.1,942.2 L1170.5,942.6 L1171.9,943.0 L1173.4,943.5 L1174.8,943.9 L1176.2,944.3 L1177.7,944.8 L1179.1,945.2 L1180.5,945.7 L1182.0,946.1 L1183.4,946.5 L1184.9,947.0 L1186.3,947.4 L1187.7,947.9 L1189.2,948.3 L1190.6,948.8 L1192.0,949.2 L1193.5,949.6 L1194.9,950.1 L1196.3,950.5 L1197.8,950.9 L1199.2,951.4 L1200.6,951.8 L1202.1,952.2 L1203.5,952.6 L1205.0,953.0 L1206.4,953.5 L1207.8,953.9 L1209.3,954.3 L1210.7,954.6 L1212.2,955.0 L1213.6,955.4 L1215.1,955.8 L1216.5,956.1 L1218.0,956.5 L1219.4,956.8 L1220.9,957.2 L1222.3,957.5 L1223.8,957.8 L1225.3,958.1 L1226.7,958.4 L1228.2,958.7 L1229.7,959.0 L1231.1,959.3 L1232.6,959.5 L1234.1,959.8 L1235.5,960.0 L1237.0,960.3 L1238.5,960.5 L1240.0,960.7 L1241.4,961.0 L1242.9,961.2 L1244.4,961.4 L1245.9,961.6 L1247.4,961.8 L1248.8,961.9 L1250.3,962.1 L1251.8,962.3 L1253.3,962.4 L1254.8,962.6 L1256.3,962.8 L1257.7,962.9 L1259.2,963.0 L1260.7,963.2 L1262.2,963.3 L1263.7,963.4 L1265.2,963.5 L1266.7,963.6 L1268.2,963.7 L1269.7,963.8 L1271.2,963.9 L1272.7,964.0 L1274.2,964.1 L1275.7,964.1 L1277.2,964.2 L1278.7,964.3 L1280.1,964.3 L1281.6,964.4 L1283.1,964.4 L1284.6,964.5 L1286.1,964.5 L1287.6,964.6 L1289.2,964.6 L1290.7,964.6 L1292.2,964.7 L1293.7,964.7 L1295.2,964.7 L1296.7,964.7 L1298.2,964.7 L1299.7,964.7 L1301.2,964.7 L1302.7,964.7 L1304.2,964.7 L1305.7,964.7 L1307.2,964.7 L1308.7,964.7 L1310.2,964.7 L1311.7,964.7 L1313.2,964.7 L1314.7,964.7 L1316.2,964.6 L1317.8,964.6 L1319.3,964.6 L1320.8,964.6 L1322.3,964.5 L1323.8,964.5 L1325.3,964.5 L1326.8,964.5 L1328.3,964.4 L1329.8,964.4 L1331.3,964.4 L1332.8,964.3 L1334.3,964.3 L1335.9,964.3 L1337.4,964.2 L1338.9,964.2 L1340.4,964.1 L1341.9,964.1 L1343.4,964.1 L1344.9,964.0 L1346.4,964.0 L1347.9,964.0 L1349.4,963.9 L1350.9,963.9 L1352.4,963.9 L1353.9,963.8 L1355.4,963.8 L1357.0,963.8 L1358.5,963.7 L1360.0,963.7 L1361.5,963.7 L1363.0,963.7 L1364.5,963.6 L1366.0,963.6 L1367.5,963.6 L1369.0,963.6 L1370.5,963.6 L1372.0,963.5 L1373.5,963.5 L1375.0,963.5 L1376.5,963.5 L1378.0,963.5 L1379.5,963.5 L1381.0,963.5 L1382.5,963.5 L1384.0,963.5 L1385.5,963.5 L1387.0,963.5 L1388.5,963.6 L1390.0,963.6 L1391.5,963.6 L1393.0,963.6 L1394.4,963.7 L1395.9,963.7 L1397.4,963.7 L1398.9,963.8 L1400.4,963.8 L1401.9,963.9 L1403.4,964.0 L1404.9,964.0 L1406.4,964.1 L1407.8,964.2 L1409.2,964.2 L1410.5,964.3" fill="none" stroke="#ff0000" stroke-width="4.6" stroke-linecap="round" stroke-linejoin="round"/>
<path d="M230.4,956.3 L232.4,956.3 L234.4,956.3 L236.5,956.3 L238.5,956.3 L240.6,956.3 L242.7,956.3 L244.8,956.3 L246.9,956.3 L249.0,956.3 L251.1,956.3 L253.3,956.3 L255.4,956.3 L257.6,956.3 L259.8,956.3 L262.0,956.3 L264.2,956.3 L266.5,956.3 L268.7,956.3 L270.9,956.3 L273.2,956.4 L275.5,956.4 L277.7,956.4 L280.0,956.4 L282.3,956.4 L284.6,956.4 L286.9,956.4 L289.2,956.4 L291.6,956.4 L293.9,956.4 L296.2,956.4 L298.6,956.4 L300.9,956.4 L303.3,956.4 L305.7,956.4 L308.0,956.4 L310.4,956.4 L312.8,956.4 L315.2,956.5 L317.6,956.5 L319.9,956.5 L322.3,956.5 L324.7,956.5 L327.1,956.5 L329.5,956.5 L331.9,956.5 L334.3,956.5 L336.7,956.5 L339.1,956.5 L341.5,956.5 L343.9,956.5 L346.3,956.5 L348.7,956.6 L351.1,956.6 L353.5,956.6 L355.9,956.6 L358.3,956.6 L360.7,956.6 L363.1,956.6 L365.5,956.6 L367.9,956.6 L370.3,956.6 L372.6,956.6 L375.0,956.6 L377.4,956.6 L379.7,956.6 L382.1,956.6 L384.4,956.7 L386.8,956.7 L389.1,956.7 L391.4,956.7 L393.8,956.7 L396.1,956.7 L398.4,956.7 L400.7,956.7 L403.0,956.7 L405.2,956.7 L407.5,956.7 L409.8,956.7 L412.0,956.7 L414.3,956.7 L416.5,956.7 L418.7,956.7 L420.9,956.7 L423.1,956.7 L425.3,956.7 L427.5,956.7 L429.6,956.7 L431.8,956.7 L433.9,956.7 L436.0,956.7 L438.1,956.8 L440.2,956.8 L442.3,956.8 L444.3,956.8 L446.4,956.8 L448.4,956.8 L450.4,956.8 L452.4,956.8 L454.4,956.8 L456.3,956.8 L458.3,956.8 L460.2,956.8 L462.1,956.8 L464.0,956.8 L465.8,956.8 L467.7,956.7 L469.5,956.7 L471.3,956.7 L473.1,956.7 L474.9,956.7 L476.6,956.7 L478.3,956.7 L480.0,956.7 L481.7,956.7 L483.4,956.7 L485.0,956.7 L486.6,956.7 L488.2,956.7 L489.8,956.7 L491.3,956.7 L492.8,956.7 L494.3,956.7 L495.8,956.7 L497.2,956.6 L498.6,956.6 L500.0,956.6 L501.4,956.6 L502.7,956.6 L504.0,956.6 L505.3,956.6 L506.5,956.6 L507.7,956.6 L508.9,956.5 L510.1,956.5 L511.2,956.5 L512.3,956.5 L513.4,956.5 L514.5,956.5 L515.5,956.5 L516.5,956.4 L517.4,956.4 L518.3,956.4 L519.2,956.4 L520.1,956.4 L520.9,956.4 L521.7,956.3 L524.4,956.3 L526.8,956.2 L528.9,956.1 L530.7,956.1 L532.3,956.0 L533.8,955.9 L535.3,955.8 L536.8,955.6 L538.4,955.5 L540.4,955.2 L542.3,955.0 L544.2,954.7 L546.0,954.4 L547.7,954.0 L549.4,953.6 L551.1,953.1 L552.8,952.5 L554.4,951.8 L556.0,951.0 L557.4,950.1 L558.7,949.2 L559.9,948.1 L561.0,946.9 L562.0,945.6 L563.0,944.3 L564.0,942.7 L564.8,941.1 L565.6,939.3 L566.3,937.6 L567.0,935.7 L567.5,934.1 L568.0,932.4 L568.4,930.6 L568.8,928.8 L569.1,927.0 L569.5,925.2 L569.8,923.3 L570.1,921.4 L570.3,919.5 L570.6,917.5 L570.8,915.5 L571.0,913.4 L571.2,911.7 L571.4,910.0 L571.5,908.2 L571.6,906.3 L571.8,904.4 L571.9,902.6 L572.0,900.7 L572.2,898.8 L572.3,896.9 L572.4,895.1 L572.6,893.4 L572.7,891.7 L572.8,890.0 L572.9,888.3 L573.1,886.4 L573.2,884.5 L573.3,882.3 L573.4,880.0 L573.5,878.6 L573.5,877.2 L573.6,875.7 L573.6,874.1 L573.7,872.5 L573.8,870.9 L573.8,869.1 L573.9,867.4 L573.9,865.6 L574.0,863.7 L574.0,861.8 L574.1,859.9 L574.1,858.0 L574.2,856.0 L574.2,854.0 L574.3,851.9 L574.3,849.9 L574.4,847.8 L574.4,845.7 L574.5,843.6 L574.5,841.4 L574.6,839.3 L574.6,837.1 L574.7,835.0 L574.7,832.8 L574.8,830.7 L574.8,828.5 L574.9,826.4 L575.0,824.2 L575.0,822.1 L575.1,820.0 L575.1,818.2 L575.2,816.4 L575.2,814.5 L575.3,812.7 L575.3,810.8 L575.4,808.9 L575.4,807.0 L575.5,805.1 L575.5,803.2 L575.6,801.2 L575.6,799.3 L575.7,797.4 L575.7,795.4 L575.8,793.4 L575.9,791.4 L575.9,789.5 L576.0,787.5 L576.0,785.5 L576.1,783.5 L576.1,781.4 L576.2,779.4 L576.2,777.4 L576.3,775.4 L576.3,773.4 L576.4,771.3 L576.5,769.3 L576.5,767.3 L576.6,765.2 L576.6,763.2 L576.7,761.2 L576.7,759.1 L576.8,757.1 L576.8,755.1 L576.9,753.0 L576.9,751.0 L577.0,749.0 L577.0,747.0 L577.1,745.0 L577.1,743.0 L577.1,741.0 L577.2,739.0 L577.2,737.0 L577.3,735.0 L577.3,733.0 L577.3,731.0 L577.4,729.1 L577.4,727.1 L577.5,725.1 L577.5,723.1 L577.5,721.1 L577.6,719.1 L577.6,717.1 L577.6,715.1 L577.7,713.1 L577.7,711.1 L577.7,709.1 L577.7,707.1 L577.8,705.1 L577.8,703.1 L577.8,701.1 L577.9,699.1 L577.9,697.2 L577.9,695.2 L577.9,693.2 L578.0,691.2 L578.0,689.2 L578.0,687.2 L578.0,685.2 L578.1,683.2 L578.1,681.2 L578.1,679.3 L578.1,677.3 L578.2,675.3 L578.2,673.3 L578.2,671.4 L578.2,669.4 L578.3,667.4 L578.3,665.5 L578.3,663.5 L578.3,661.6 L578.4,659.6 L578.4,657.7 L578.4,655.8 L578.4,653.8 L578.5,651.9 L578.5,650.0 L578.5,648.0 L578.6,645.9 L578.6,643.9 L578.6,641.9 L578.6,639.9 L578.7,637.9 L578.7,635.9 L578.7,633.9 L578.8,631.9 L578.8,629.9 L578.8,627.9 L578.9,626.0 L578.9,624.0 L578.9,622.0 L579.0,620.1 L579.0,618.1 L579.0,616.1 L579.0,614.2 L579.1,612.2 L579.1,610.2 L579.1,608.3 L579.2,606.3 L579.2,604.4 L579.2,602.4 L579.2,600.5 L579.3,598.5 L579.3,596.6 L579.3,594.6 L579.4,592.7 L579.4,590.7 L579.4,588.8 L579.4,586.8 L579.5,584.8 L579.5,582.9 L579.5,580.9 L579.5,578.9 L579.6,577.0 L579.6,575.0 L579.6,573.0 L579.6,571.1 L579.7,569.2 L579.7,567.3 L579.7,565.4 L579.7,563.5 L579.8,561.6 L579.8,559.7 L579.8,557.9 L579.8,556.0 L579.9,554.2 L579.9,552.3 L579.9,550.5 L579.9,548.7 L579.9,546.8 L580.0,545.0 L580.0,543.1 L580.0,541.3 L580.0,539.4 L580.0,537.5 L580.1,535.6 L580.1,533.7 L580.1,531.8 L580.1,529.9 L580.1,527.9 L580.2,525.9 L580.2,523.9 L580.2,521.9 L580.2,519.9 L580.2,517.8 L580.3,515.7 L580.3,513.5 L580.3,511.4 L580.3,509.2 L580.3,506.9 L580.4,504.7 L580.4,502.4 L580.4,500.0 L580.4,498.4 L580.4,496.8 L580.4,495.1 L580.5,493.4 L580.5,491.7 L580.5,490.0 L580.5,488.2 L580.5,486.4 L580.5,484.6 L580.5,482.8 L580.5,480.9 L580.5,479.0 L580.6,477.1 L580.6,475.2 L580.6,473.3 L580.6,471.3 L580.6,469.3 L580.6,467.3 L580.6,465.3 L580.6,463.2 L580.6,461.2 L580.7,459.1 L580.7,457.0 L580.7,454.9 L580.7,452.8 L580.7,450.7 L580.7,448.5 L580.7,446.4 L580.7,444.2 L580.7,442.1 L580.7,439.9 L580.8,437.7 L580.8,435.5 L580.8,433.3 L580.8,431.1 L580.8,428.9 L580.8,426.7 L580.8,424.5 L580.8,422.3 L580.8,420.1 L580.8,417.9 L580.9,415.7 L580.9,413.4 L580.9,411.2 L580.9,409.0 L580.9,406.8 L580.9,404.6 L580.9,402.4 L580.9,400.2 L580.9,398.0 L581.0,395.9 L581.0,393.7 L581.0,391.5 L581.0,389.4 L581.0,387.2 L581.0,385.1 L581.0,383.0 L581.0,380.9 L581.0,378.8 L581.1,376.7 L581.1,374.6 L581.1,372.6 L581.1,370.6 L581.1,368.5 L581.1,366.5 L581.1,364.6 L581.1,362.6 L581.1,360.7 L581.2,358.7 L581.2,356.8 L581.2,355.0 L581.2,353.1 L581.2,351.3 L581.2,349.5 L581.2,347.7 L581.3,345.9 L581.3,344.2 L581.3,342.5 L581.3,340.8 L581.3,339.2 L581.3,337.6 L581.3,336.0 L581.4,334.5 L581.4,332.9 L581.4,331.5 L581.4,330.0 L581.4,327.5 L581.5,325.1 L581.5,322.7 L581.5,320.3 L581.5,318.0 L581.6,315.7 L581.6,313.5 L581.6,311.3 L581.6,309.1 L581.6,307.0 L581.7,304.9 L581.7,302.9 L581.7,300.9 L581.8,298.9 L581.8,297.0 L581.8,295.1 L581.8,293.2 L581.9,291.4 L581.9,289.6 L581.9,287.8 L582.0,286.1 L582.0,284.4 L582.1,282.8 L582.1,281.2 L582.1,279.6 L582.2,278.0 L582.2,276.5 L582.3,275.0 L582.4,272.8 L582.5,270.7 L582.6,268.6 L582.7,266.7 L582.8,264.8 L582.9,263.1 L583.0,261.3 L583.1,259.7 L583.3,258.1 L583.4,256.5 L583.5,255.0 L583.7,253.1 L583.8,251.4 L583.9,249.7 L584.1,248.1 L584.3,246.6 L584.5,245.0 L584.7,243.3 L585.0,241.6 L585.2,239.9 L585.5,238.3 L586.0,237.0 L586.6,235.6 L587.3,234.4 L588.5,233.5 L589.7,233.1 L591.2,232.9 L592.9,232.8 L594.8,232.9 L596.8,233.0 L598.8,233.1 L600.8,233.2 L602.6,233.3 L604.4,233.3 L606.3,233.3 L608.2,233.4 L610.0,233.4 L611.7,233.5 L613.4,233.5 L615.0,233.6 L617.0,233.7 L618.9,233.7 L620.6,233.8 L622.0,234.0 L623.1,234.3 L624.0,234.8 L625.1,235.8 L626.2,237.3 L627.4,238.7 L628.4,239.7 L629.2,240.2 L630.0,240.4 L631.4,240.6 L633.1,240.6 L635.0,240.7 L636.6,240.8 L638.5,240.9 L640.5,241.0 L642.5,241.1 L644.6,241.2 L646.5,241.3 L648.3,241.4 L650.2,241.6 L652.0,241.7 L653.8,241.9 L655.5,242.0 L657.0,242.2 L658.9,242.4 L660.5,242.7 L662.0,243.1 L663.6,243.8 L665.0,244.7 L666.2,246.1 L667.2,247.8 L667.9,249.3 L668.4,251.0 L669.0,252.7 L669.5,254.1 L670.0,255.5 L670.5,257.0 L671.0,258.5 L671.5,260.1 L671.9,261.6 L672.3,263.3 L672.7,265.0 L673.0,266.5 L673.3,268.1 L673.5,269.7 L673.8,271.4 L674.0,273.2 L674.3,275.0 L674.5,276.7 L674.8,278.5 L675.0,280.3 L675.3,282.1 L675.6,284.0 L675.8,286.0 L676.1,288.0 L676.3,290.1 L676.5,291.8 L676.7,293.6 L676.9,295.5 L677.1,297.4 L677.3,299.3 L677.5,301.3 L677.7,303.3 L677.8,305.3 L678.0,307.3 L678.2,309.3 L678.4,311.3 L678.6,313.3 L678.8,315.2 L679.0,317.1 L679.2,319.0 L679.4,321.0 L679.6,322.9 L679.8,324.8 L680.0,326.7 L680.1,328.7 L680.3,330.6 L680.5,332.5 L680.7,334.4 L680.9,336.4 L681.1,338.3 L681.3,340.2 L681.5,342.1 L681.7,344.1 L681.9,346.0 L682.1,347.9 L682.3,349.9 L682.5,351.8 L682.7,353.7 L682.9,355.7 L683.1,357.6 L683.2,359.5 L683.4,361.4 L683.6,363.4 L683.8,365.3 L684.0,367.2 L684.1,369.1 L684.3,370.9 L684.4,372.7 L684.6,374.6 L684.8,376.4 L684.9,378.3 L685.1,380.1 L685.2,382.0 L685.4,384.0 L685.5,385.9 L685.7,387.9 L685.9,390.0 L686.1,391.8 L686.2,393.6 L686.4,395.5 L686.6,397.4 L686.8,399.3 L687.0,401.3 L687.1,403.3 L687.3,405.3 L687.5,407.3 L687.7,409.3 L687.9,411.4 L688.1,413.4 L688.3,415.5 L688.5,417.5 L688.7,419.5 L688.9,421.6 L689.1,423.6 L689.3,425.6 L689.5,427.6 L689.7,429.6 L689.9,431.6 L690.1,433.7 L690.3,435.7 L690.5,437.8 L690.7,439.9 L690.9,442.0 L691.1,444.1 L691.3,446.2 L691.5,448.2 L691.7,450.3 L691.9,452.3 L692.1,454.3 L692.3,456.2 L692.5,458.1 L692.7,460.0 L692.9,461.8 L693.0,463.5 L693.2,465.2 L693.4,467.4 L693.6,469.6 L693.9,471.8 L694.1,473.9 L694.3,476.0 L694.5,477.9 L694.7,479.7 L694.8,481.3 L695.0,482.8 L695.1,483.9 L695.3,485.6 L695.4,486.9 L695.6,488.4 L695.7,489.9 L695.9,491.4 L696.0,492.9 L696.2,494.4 L696.3,495.9 L696.5,497.4 L696.6,498.9 L696.8,500.4 L696.9,501.9 L697.1,503.4 L697.3,504.9 L697.4,506.3 L697.6,507.8 L697.7,509.3 L697.9,510.8 L698.0,512.3 L698.2,513.8 L698.4,515.3 L698.5,516.8 L698.7,518.3 L698.9,519.8 L699.0,521.3 L699.2,522.8 L699.4,524.3 L699.5,525.8 L699.7,527.2 L699.9,528.7 L700.0,530.2 L700.2,531.7 L700.4,533.2 L700.5,534.7 L700.7,536.2 L700.9,537.7 L701.1,539.2 L701.2,540.7 L701.4,542.2 L701.6,543.6 L701.8,545.1 L702.0,546.6 L702.1,548.1 L702.3,549.6 L702.5,551.1 L702.7,552.6 L702.9,554.1 L703.1,555.6 L703.3,557.1 L703.5,558.5 L703.7,560.0 L703.9,561.5 L704.1,563.0 L704.3,564.5 L704.5,566.0 L704.7,567.5 L704.9,568.9 L705.1,570.4 L705.3,571.9 L705.5,573.4 L705.7,574.9 L705.9,576.4 L706.1,577.9 L706.4,579.3 L706.6,580.8 L706.8,582.3 L707.0,583.8 L707.2,585.3 L707.5,586.8 L707.7,588.2 L707.9,589.7 L708.2,591.2 L708.4,592.7 L708.6,594.2 L708.9,595.6 L709.1,597.1 L709.4,598.6 L709.6,600.1 L709.9,601.5 L710.1,603.0 L710.4,604.5 L710.6,606.0 L710.9,607.4 L711.2,608.9 L711.4,610.4 L711.7,611.9 L712.0,613.3 L712.2,614.8 L712.5,616.3 L712.8,617.8 L713.1,619.2 L713.3,620.7 L713.6,622.2 L713.9,623.6 L714.2,625.1 L714.5,626.6 L714.8,628.0 L715.1,629.5 L715.4,631.0 L715.7,632.4 L716.0,633.9 L716.3,635.4 L716.6,636.8 L716.9,638.3 L717.3,639.8 L717.6,641.2 L717.9,642.7 L718.2,644.1 L718.6,645.6 L718.9,647.1 L719.3,648.5 L719.6,650.0 L719.9,651.4 L720.3,652.9 L720.6,654.3 L721.0,655.8 L721.4,657.3 L721.7,658.7 L722.1,660.2 L722.4,661.6 L722.8,663.1 L723.2,664.5 L723.6,666.0 L724.0,667.4 L724.3,668.9 L724.7,670.3 L725.1,671.8 L725.5,673.2 L725.9,674.6 L726.3,676.1 L726.7,677.5 L727.2,679.0 L727.6,680.4 L728.0,681.9 L728.4,683.3 L728.8,684.7 L729.3,686.2 L729.7,687.6 L730.1,689.0 L730.6,690.5 L731.0,691.9 L731.5,693.3 L731.9,694.8 L732.4,696.2 L732.9,697.6 L733.3,699.1 L733.8,700.5 L734.3,701.9 L734.8,703.3 L735.3,704.8 L735.7,706.2 L736.2,707.6 L736.7,709.0 L737.2,710.5 L737.7,711.9 L738.3,713.3 L738.8,714.7 L739.3,716.1 L739.8,717.5 L740.4,719.0 L740.9,720.4 L741.4,721.8 L742.0,723.2 L742.5,724.6 L743.1,726.0 L743.7,727.4 L744.2,728.8 L744.8,730.2 L745.4,731.6 L746.0,732.9 L746.6,734.3 L747.1,735.7 L747.8,737.1 L748.4,738.5 L749.0,739.8 L749.6,741.2 L750.2,742.6 L750.8,743.9 L751.5,745.3 L752.1,746.7 L752.8,748.0 L753.4,749.4 L754.1,750.7 L754.8,752.1 L755.4,753.4 L756.1,754.7 L756.8,756.1 L757.5,757.4 L758.2,758.7 L758.9,760.1 L759.6,761.4 L760.4,762.7 L761.1,764.0 L761.8,765.3 L762.6,766.6 L763.3,767.9 L764.1,769.2 L764.8,770.5 L765.6,771.8 L766.4,773.0 L767.2,774.3 L768.0,775.6 L768.8,776.8 L769.6,778.1 L770.4,779.3 L771.2,780.6 L772.1,781.8 L772.9,783.1 L773.7,784.3 L774.6,785.5 L775.5,786.8 L776.3,788.0 L777.2,789.2 L778.1,790.4 L779.0,791.6 L779.9,792.8 L780.8,794.0 L781.7,795.1 L782.7,796.3 L783.6,797.5 L784.5,798.6 L785.5,799.8 L786.5,800.9 L787.4,802.1 L788.4,803.2 L789.4,804.4 L790.4,805.5 L791.4,806.6 L792.4,807.7 L793.4,808.8 L794.4,809.9 L795.4,811.0 L796.4,812.1 L797.5,813.2 L798.5,814.2 L799.6,815.3 L800.6,816.4 L801.7,817.4 L802.8,818.5 L803.9,819.5 L804.9,820.5 L806.0,821.6 L807.1,822.6 L808.2,823.6 L809.3,824.6 L810.5,825.6 L811.6,826.6 L812.7,827.6 L813.9,828.5 L815.0,829.5 L816.2,830.5 L817.3,831.4 L818.5,832.4 L819.6,833.3 L820.8,834.2 L822.0,835.2 L823.2,836.1 L824.4,837.0 L825.6,837.9 L826.8,838.8 L828.0,839.7 L829.2,840.5 L830.4,841.4 L831.6,842.3 L832.9,843.1 L834.1,844.0 L835.3,844.8 L836.6,845.6 L837.8,846.5 L839.1,847.3 L840.3,848.1 L841.6,848.9 L842.9,849.7 L844.2,850.5 L845.4,851.2 L846.7,852.0 L848.0,852.7 L849.3,853.5 L850.6,854.2 L851.9,855.0 L853.2,855.7 L854.5,856.4 L855.9,857.1 L857.2,857.8 L858.5,858.5 L859.8,859.2 L861.2,859.9 L862.5,860.5 L863.9,861.2 L865.2,861.9 L866.6,862.5 L867.9,863.1 L869.3,863.8 L870.6,864.4 L872.0,865.0 L873.4,865.6 L874.7,866.2 L876.1,866.8 L877.5,867.4 L878.9,868.0 L880.3,868.6 L881.6,869.1 L883.0,869.7 L884.4,870.3 L885.8,870.8 L887.2,871.4 L888.6,871.9 L890.0,872.4 L891.5,873.0 L892.9,873.5 L894.3,874.0 L895.7,874.5 L897.1,875.0 L898.5,875.5 L900.0,876.0 L901.4,876.5 L902.8,876.9 L904.2,877.4 L905.7,877.9 L907.1,878.3 L908.5,878.8 L910.0,879.2 L911.4,879.7 L912.9,880.1 L914.3,880.6 L915.8,881.0 L917.2,881.4 L918.6,881.8 L920.1,882.3 L921.5,882.7 L923.0,883.1 L924.4,883.5 L925.9,883.9 L927.4,884.3 L928.8,884.6 L930.3,885.0 L931.7,885.4 L933.2,885.8 L934.6,886.2 L936.1,886.5 L937.6,886.9 L939.0,887.2 L940.5,887.6 L941.9,887.9 L943.4,888.3 L944.9,888.6 L946.3,889.0 L947.8,889.3 L949.3,889.6 L950.7,890.0 L952.2,890.3 L953.7,890.6 L955.1,890.9 L956.6,891.3 L958.1,891.6 L959.5,891.9 L961.0,892.2 L962.5,892.5 L963.9,892.8 L965.4,893.1 L966.9,893.4 L968.3,893.7 L969.8,893.9 L971.3,894.2 L972.8,894.5 L974.2,894.8 L975.7,895.1 L977.2,895.3 L978.6,895.6 L980.1,895.9 L981.6,896.1 L983.1,896.4 L984.5,896.7 L986.0,896.9 L987.5,897.2 L989.0,897.4 L990.5,897.7 L991.9,897.9 L993.4,898.2 L994.9,898.4 L996.4,898.7 L997.8,898.9 L999.3,899.1 L1000.8,899.4 L1002.3,899.6 L1003.8,899.9 L1005.2,900.1 L1006.7,900.3 L1008.2,900.6 L1009.7,900.8 L1011.2,901.0 L1012.7,901.2 L1014.1,901.5 L1015.6,901.7 L1017.1,901.9 L1018.6,902.1 L1020.1,902.3 L1021.5,902.6 L1023.0,902.8 L1024.5,903.0 L1026.0,903.2 L1027.5,903.4 L1029.0,903.6 L1030.5,903.9 L1031.9,904.1 L1033.4,904.3 L1034.9,904.5 L1036.4,904.7 L1037.9,904.9 L1039.4,905.1 L1040.8,905.3 L1042.3,905.6 L1043.8,905.8 L1045.3,906.0 L1046.8,906.2 L1048.3,906.4 L1049.8,906.6 L1051.2,906.8 L1052.7,907.0 L1054.2,907.3 L1055.7,907.5 L1057.2,907.7 L1058.7,907.9 L1060.2,908.1 L1061.6,908.4 L1063.1,908.6 L1064.6,908.8 L1066.1,909.0 L1067.6,909.3 L1069.1,909.5 L1070.5,909.7 L1072.0,910.0 L1073.5,910.2 L1075.0,910.4 L1076.5,910.7 L1077.9,910.9 L1079.4,911.1 L1080.9,911.4 L1082.4,911.6 L1083.8,911.9 L1085.3,912.2 L1086.8,912.4 L1088.3,912.7 L1089.7,912.9 L1091.2,913.2 L1092.7,913.5 L1094.2,913.8 L1095.6,914.0 L1097.1,914.3 L1098.6,914.6 L1100.0,914.9 L1101.5,915.2 L1103.0,915.5 L1104.4,915.8 L1105.9,916.1 L1107.4,916.4 L1108.8,916.7 L1110.3,917.0 L1111.8,917.4 L1113.2,917.7 L1114.7,918.0 L1116.1,918.4 L1117.6,918.7 L1119.0,919.0 L1120.5,919.4 L1122.0,919.8 L1123.4,920.1 L1124.9,920.5 L1126.3,920.9 L1127.8,921.2 L1129.2,921.6 L1130.6,922.0 L1132.1,922.4 L1133.5,922.8 L1135.0,923.2 L1136.4,923.6 L1137.9,924.0 L1139.3,924.4 L1140.7,924.8 L1142.2,925.2 L1143.6,925.7 L1145.1,926.1 L1146.5,926.5 L1147.9,926.9 L1149.4,927.4 L1150.8,927.8 L1152.2,928.2 L1153.7,928.7 L1155.1,929.1 L1156.5,929.6 L1158.0,930.0 L1159.4,930.5 L1160.8,930.9 L1162.3,931.3 L1163.7,931.8 L1165.1,932.2 L1166.6,932.7 L1168.0,933.1 L1169.4,933.6 L1170.9,934.1 L1172.3,934.5 L1173.7,935.0 L1175.1,935.4 L1176.6,935.9 L1178.0,936.3 L1179.4,936.8 L1180.9,937.2 L1182.3,937.7 L1183.7,938.1 L1185.2,938.6 L1186.6,939.0 L1188.0,939.5 L1189.5,939.9 L1190.9,940.4 L1192.3,940.8 L1193.8,941.2 L1195.2,941.7 L1196.6,942.1 L1198.1,942.5 L1199.5,943.0 L1200.9,943.4 L1202.4,943.8 L1203.8,944.3 L1205.2,944.7 L1206.7,945.1 L1208.1,945.5 L1209.6,945.9 L1211.0,946.3 L1212.4,946.7 L1213.9,947.1 L1215.3,947.5 L1216.8,947.9 L1218.2,948.3 L1219.6,948.7 L1221.1,949.1 L1222.5,949.4 L1224.0,949.8 L1225.4,950.2 L1226.9,950.5 L1228.3,950.9 L1229.8,951.2 L1231.2,951.6 L1232.7,951.9 L1234.2,952.3 L1235.6,952.6 L1237.1,952.9 L1238.5,953.3 L1240.0,953.6 L1241.4,953.9 L1242.9,954.2 L1244.4,954.5 L1245.8,954.8 L1247.3,955.1 L1248.7,955.4 L1250.2,955.7 L1251.7,956.0 L1253.1,956.2 L1254.6,956.5 L1256.1,956.8 L1257.6,957.0 L1259.0,957.3 L1260.5,957.5 L1262.0,957.8 L1263.4,958.0 L1264.9,958.3 L1266.4,958.5 L1267.9,958.7 L1269.3,959.0 L1270.8,959.2 L1272.3,959.4 L1273.8,959.6 L1275.2,959.8 L1276.7,960.0 L1278.2,960.2 L1279.7,960.4 L1281.2,960.6 L1282.7,960.8 L1284.1,960.9 L1285.6,961.1 L1287.1,961.3 L1288.6,961.4 L1290.1,961.6 L1291.6,961.7 L1293.1,961.9 L1294.6,962.0 L1296.0,962.2 L1297.5,962.3 L1299.0,962.4 L1300.5,962.5 L1302.0,962.7 L1303.5,962.8 L1305.0,962.9 L1306.5,963.0 L1308.0,963.1 L1309.5,963.2 L1311.0,963.3 L1312.5,963.3 L1314.0,963.4 L1315.5,963.5 L1317.0,963.6 L1318.5,963.6 L1320.0,963.7 L1321.5,963.7 L1323.0,963.8 L1324.5,963.8 L1326.0,963.9 L1327.5,963.9 L1329.0,963.9 L1330.5,964.0 L1332.0,964.0 L1333.5,964.0 L1335.0,964.0 L1336.5,964.1 L1338.0,964.1 L1339.5,964.1 L1341.0,964.1 L1342.5,964.1 L1344.1,964.1 L1345.6,964.1 L1347.1,964.1 L1348.6,964.1 L1350.1,964.1 L1351.6,964.1 L1353.1,964.1 L1354.6,964.1 L1356.1,964.1 L1357.6,964.1 L1359.1,964.0 L1360.6,964.0 L1362.1,964.0 L1363.6,964.0 L1365.1,964.0 L1366.7,964.0 L1368.2,963.9 L1369.7,963.9 L1371.2,963.9 L1372.7,963.9 L1374.2,963.8 L1375.7,963.8 L1377.2,963.8 L1378.7,963.8 L1380.2,963.8 L1381.7,963.7 L1383.2,963.7 L1384.7,963.7 L1386.2,963.7 L1387.7,963.7 L1389.2,963.7 L1390.7,963.6 L1392.2,963.6 L1393.7,963.6 L1395.2,963.6 L1396.7,963.6 L1398.2,963.6 L1399.7,963.6 L1401.2,963.6 L1402.7,963.6 L1404.2,963.6 L1405.7,963.6 L1407.2,963.6 L1408.8,963.6 L1410.1,963.6 L1410.3,963.6 L1410.5,963.6" fill="none" stroke="#00ff00" stroke-width="4.6" stroke-linecap="round" stroke-linejoin="round"/>
<path d="M230.4,954.5 L232.4,954.5 L234.4,954.5 L236.5,954.5 L238.5,954.5 L240.6,954.5 L242.7,954.5 L244.8,954.5 L246.9,954.5 L249.0,954.5 L251.2,954.5 L253.3,954.5 L255.5,954.5 L257.7,954.5 L259.9,954.5 L262.1,954.5 L264.3,954.5 L266.5,954.5 L268.8,954.5 L271.0,954.6 L273.3,954.6 L275.6,954.6 L277.8,954.6 L280.1,954.6 L282.4,954.6 L284.7,954.6 L287.1,954.6 L289.4,954.6 L291.7,954.6 L294.1,954.6 L296.4,954.6 L298.8,954.6 L301.1,954.6 L303.5,954.6 L305.9,954.6 L308.2,954.7 L310.6,954.7 L313.0,954.7 L315.4,954.7 L317.8,954.7 L320.2,954.7 L322.6,954.7 L325.0,954.7 L327.4,954.7 L329.8,954.7 L332.2,954.7 L334.6,954.7 L337.0,954.7 L339.4,954.8 L341.8,954.8 L344.2,954.8 L346.6,954.8 L349.1,954.8 L351.5,954.8 L353.9,954.8 L356.3,954.8 L358.7,954.8 L361.1,954.8 L363.5,954.8 L365.9,954.8 L368.2,954.8 L370.6,954.9 L373.0,954.9 L375.4,954.9 L377.7,954.9 L380.1,954.9 L382.5,954.9 L384.8,954.9 L387.2,954.9 L389.5,954.9 L391.8,954.9 L394.2,954.9 L396.5,954.9 L398.8,954.9 L401.1,954.9 L403.4,954.9 L405.6,954.9 L407.9,955.0 L410.2,955.0 L412.4,955.0 L414.7,955.0 L416.9,955.0 L419.1,955.0 L421.3,955.0 L423.5,955.0 L425.7,955.0 L427.8,955.0 L430.0,955.0 L432.1,955.0 L434.3,955.0 L436.4,955.0 L438.5,955.0 L440.5,955.0 L442.6,955.0 L444.7,955.0 L446.7,955.0 L448.7,955.0 L450.7,955.0 L452.7,955.0 L454.7,955.0 L456.6,955.0 L458.5,955.0 L460.4,955.0 L462.3,955.0 L464.2,955.0 L466.1,955.0 L467.9,955.0 L469.7,955.0 L471.5,955.0 L473.3,955.0 L475.0,955.0 L476.7,955.0 L478.4,955.0 L480.1,955.0 L481.8,955.0 L483.4,954.9 L485.0,954.9 L486.6,954.9 L488.2,954.9 L489.7,954.9 L491.3,954.9 L492.7,954.9 L494.2,954.9 L495.6,954.9 L497.1,954.9 L498.4,954.9 L499.8,954.8 L501.1,954.8 L502.4,954.8 L503.7,954.8 L505.0,954.8 L506.2,954.8 L507.4,954.8 L508.5,954.7 L509.7,954.7 L510.8,954.7 L511.8,954.7 L512.9,954.7 L513.9,954.7 L514.8,954.6 L515.8,954.6 L516.7,954.6 L517.6,954.6 L518.4,954.5 L519.2,954.5 L520.0,954.5 L522.7,954.4 L524.9,954.3 L526.9,954.3 L528.6,954.2 L530.2,954.1 L531.6,954.0 L533.0,953.8 L534.5,953.7 L536.0,953.5 L538.0,953.3 L539.9,953.0 L541.7,952.7 L543.5,952.4 L545.3,952.0 L547.0,951.5 L548.8,950.9 L550.6,950.3 L552.3,949.7 L554.0,948.9 L555.5,948.0 L556.9,947.1 L558.1,946.1 L559.3,945.0 L560.5,943.8 L561.5,942.5 L562.5,941.0 L563.5,939.4 L564.3,937.6 L565.1,935.8 L565.8,934.0 L566.4,932.3 L566.9,930.5 L567.3,928.7 L567.7,926.8 L568.1,924.9 L568.4,923.0 L568.7,921.3 L569.0,919.7 L569.2,918.0 L569.4,916.3 L569.6,914.6 L569.8,912.8 L570.0,911.0 L570.2,909.1 L570.4,907.2 L570.5,905.3 L570.7,903.3 L570.8,901.3 L570.9,899.3 L571.1,897.4 L571.2,895.4 L571.3,893.5 L571.5,891.8 L571.6,890.1 L571.7,888.3 L571.8,886.5 L572.0,884.6 L572.1,882.4 L572.2,880.0 L572.3,878.7 L572.3,877.3 L572.4,875.8 L572.4,874.3 L572.5,872.7 L572.5,871.0 L572.6,869.3 L572.6,867.6 L572.7,865.8 L572.7,863.9 L572.8,862.0 L572.8,860.1 L572.9,858.2 L572.9,856.2 L573.0,854.1 L573.0,852.1 L573.1,850.0 L573.1,847.9 L573.2,845.8 L573.2,843.7 L573.3,841.5 L573.3,839.4 L573.4,837.2 L573.4,835.0 L573.5,832.9 L573.5,830.7 L573.6,828.5 L573.6,826.4 L573.7,824.2 L573.7,822.1 L573.8,820.0 L573.8,818.2 L573.9,816.4 L573.9,814.5 L574.0,812.7 L574.0,810.8 L574.1,808.9 L574.2,807.0 L574.2,805.1 L574.3,803.2 L574.3,801.2 L574.4,799.3 L574.4,797.4 L574.5,795.4 L574.5,793.4 L574.6,791.4 L574.6,789.5 L574.7,787.5 L574.7,785.5 L574.8,783.5 L574.9,781.4 L574.9,779.4 L575.0,777.4 L575.0,775.4 L575.1,773.4 L575.1,771.3 L575.2,769.3 L575.2,767.3 L575.3,765.2 L575.3,763.2 L575.4,761.2 L575.4,759.1 L575.5,757.1 L575.6,755.1 L575.6,753.0 L575.6,751.0 L575.7,749.0 L575.7,747.0 L575.8,745.0 L575.8,743.0 L575.9,741.0 L575.9,739.0 L576.0,737.0 L576.0,735.0 L576.0,733.0 L576.1,731.0 L576.1,729.1 L576.1,727.1 L576.2,725.1 L576.2,723.1 L576.3,721.1 L576.3,719.1 L576.3,717.1 L576.3,715.1 L576.4,713.1 L576.4,711.1 L576.4,709.1 L576.5,707.1 L576.5,705.1 L576.5,703.1 L576.5,701.1 L576.6,699.1 L576.6,697.2 L576.6,695.2 L576.7,693.2 L576.7,691.2 L576.7,689.2 L576.7,687.2 L576.8,685.2 L576.8,683.2 L576.8,681.2 L576.8,679.3 L576.8,677.3 L576.9,675.3 L576.9,673.3 L576.9,671.4 L576.9,669.4 L577.0,667.4 L577.0,665.5 L577.0,663.5 L577.0,661.6 L577.1,659.6 L577.1,657.7 L577.1,655.8 L577.1,653.8 L577.2,651.9 L577.2,650.0 L577.2,648.0 L577.3,645.9 L577.3,643.9 L577.3,641.9 L577.3,639.9 L577.4,637.9 L577.4,635.9 L577.4,633.9 L577.5,631.9 L577.5,629.9 L577.5,627.9 L577.6,626.0 L577.6,624.0 L577.6,622.0 L577.7,620.1 L577.7,618.1 L577.7,616.1 L577.7,614.2 L577.8,612.2 L577.8,610.2 L577.8,608.3 L577.9,606.3 L577.9,604.4 L577.9,602.4 L577.9,600.5 L578.0,598.5 L578.0,596.6 L578.0,594.6 L578.1,592.7 L578.1,590.7 L578.1,588.8 L578.1,586.8 L578.2,584.8 L578.2,582.9 L578.2,580.9 L578.2,578.9 L578.3,577.0 L578.3,575.0 L578.3,573.0 L578.3,571.1 L578.4,569.2 L578.4,567.3 L578.4,565.4 L578.4,563.5 L578.5,561.6 L578.5,559.7 L578.5,557.9 L578.5,556.0 L578.6,554.2 L578.6,552.3 L578.6,550.5 L578.6,548.7 L578.6,546.8 L578.7,545.0 L578.7,543.1 L578.7,541.3 L578.7,539.4 L578.7,537.5 L578.8,535.6 L578.8,533.7 L578.8,531.8 L578.8,529.9 L578.8,527.9 L578.9,525.9 L578.9,523.9 L578.9,521.9 L578.9,519.9 L578.9,517.8 L579.0,515.7 L579.0,513.5 L579.0,511.4 L579.0,509.2 L579.0,506.9 L579.1,504.7 L579.1,502.4 L579.1,500.0 L579.1,498.4 L579.1,496.8 L579.1,495.2 L579.2,493.5 L579.2,491.8 L579.2,490.1 L579.2,488.3 L579.2,486.6 L579.2,484.8 L579.2,483.0 L579.2,481.2 L579.3,479.3 L579.3,477.5 L579.3,475.6 L579.3,473.7 L579.3,471.8 L579.3,469.9 L579.3,467.9 L579.3,466.0 L579.4,464.0 L579.4,462.0 L579.4,460.0 L579.4,458.0 L579.4,455.9 L579.4,453.9 L579.4,451.8 L579.4,449.8 L579.5,447.7 L579.5,445.6 L579.5,443.5 L579.5,441.4 L579.5,439.3 L579.5,437.2 L579.5,435.0 L579.5,432.9 L579.5,430.8 L579.6,428.6 L579.6,426.5 L579.6,424.3 L579.6,422.2 L579.6,420.0 L579.6,417.9 L579.6,415.7 L579.6,413.5 L579.6,411.4 L579.7,409.2 L579.7,407.1 L579.7,404.9 L579.7,402.8 L579.7,400.6 L579.7,398.4 L579.7,396.3 L579.7,394.2 L579.8,392.0 L579.8,389.9 L579.8,387.8 L579.8,385.7 L579.8,383.6 L579.8,381.5 L579.8,379.4 L579.8,377.3 L579.8,375.2 L579.9,373.1 L579.9,371.1 L579.9,369.1 L579.9,367.0 L579.9,365.0 L579.9,363.0 L579.9,361.0 L579.9,359.1 L579.9,357.1 L580.0,355.2 L580.0,353.2 L580.0,351.3 L580.0,349.4 L580.0,347.6 L580.0,345.7 L580.0,343.9 L580.0,342.1 L580.0,340.3 L580.0,338.5 L580.1,336.8 L580.1,335.0 L580.1,333.3 L580.1,331.7 L580.1,330.0 L580.1,327.7 L580.1,325.5 L580.1,323.2 L580.2,321.0 L580.2,318.8 L580.2,316.6 L580.2,314.5 L580.2,312.3 L580.2,310.2 L580.2,308.1 L580.3,306.0 L580.3,303.9 L580.3,301.8 L580.3,299.8 L580.3,297.8 L580.3,295.7 L580.3,293.7 L580.3,291.8 L580.4,289.8 L580.4,287.8 L580.4,285.9 L580.4,283.9 L580.4,282.0 L580.4,280.1 L580.4,278.2 L580.4,276.3 L580.5,274.4 L580.5,272.6 L580.5,270.7 L580.5,268.9 L580.5,267.0 L580.5,265.2 L580.5,263.4 L580.6,261.6 L580.6,259.8 L580.6,258.0 L580.6,256.2 L580.6,254.5 L580.6,252.7 L580.6,251.0 L580.7,249.2 L580.7,247.5 L580.7,245.7 L580.7,244.0 L580.7,241.8 L580.7,239.6 L580.8,237.4 L580.8,235.3 L580.8,233.1 L580.8,231.0 L580.8,228.9 L580.8,226.8 L580.9,224.8 L580.9,222.7 L580.9,220.7 L580.9,218.7 L580.9,216.7 L580.9,214.7 L581.0,212.8 L581.0,210.8 L581.0,208.9 L581.0,207.0 L581.0,205.0 L581.1,203.2 L581.1,201.3 L581.1,199.4 L581.2,197.5 L581.2,195.7 L581.2,193.8 L581.3,192.0 L581.3,190.2 L581.3,188.0 L581.4,185.9 L581.5,183.8 L581.5,181.6 L581.6,179.5 L581.6,177.4 L581.7,175.3 L581.7,173.2 L581.8,171.2 L581.9,169.2 L581.9,167.2 L582.0,165.2 L582.1,163.3 L582.2,161.4 L582.3,159.5 L582.3,157.7 L582.4,156.0 L582.5,154.3 L582.6,152.6 L582.7,150.4 L582.9,148.3 L583.0,146.3 L583.1,144.3 L583.3,142.3 L583.4,140.5 L583.6,138.7 L583.7,137.0 L583.9,135.4 L584.1,133.8 L584.4,131.8 L584.6,129.9 L584.9,128.2 L585.3,126.6 L585.7,125.1 L586.3,123.3 L587.0,121.7 L588.2,120.5 L589.4,120.1 L590.9,119.8 L592.7,119.8 L594.7,119.9 L596.7,120.1 L598.8,120.3 L600.8,120.5 L602.6,120.6 L604.4,120.6 L606.3,120.6 L608.1,120.6 L609.9,120.6 L611.7,120.6 L613.4,120.7 L615.0,120.7 L617.1,120.7 L619.2,120.8 L621.1,120.9 L622.6,121.1 L623.7,121.4 L624.6,122.0 L625.6,122.9 L626.7,124.2 L627.8,125.5 L628.8,126.5 L629.7,127.1 L630.6,127.5 L631.8,127.7 L633.3,127.8 L635.0,127.8 L636.6,127.8 L638.5,127.9 L640.4,127.9 L642.5,127.9 L644.6,127.9 L646.5,128.0 L648.3,128.1 L650.2,128.1 L652.0,128.2 L653.8,128.3 L655.5,128.5 L657.0,128.6 L658.9,128.8 L660.5,129.0 L662.0,129.4 L663.6,130.2 L665.0,131.2 L666.1,132.6 L667.0,134.2 L667.8,135.7 L668.5,137.3 L669.2,139.0 L669.7,140.4 L670.2,141.9 L670.6,143.4 L671.0,145.0 L671.4,146.7 L671.8,148.3 L672.1,150.1 L672.5,152.0 L672.8,153.6 L673.2,155.4 L673.6,157.3 L674.0,159.2 L674.4,161.2 L674.8,163.1 L675.1,165.0 L675.4,166.9 L675.7,168.7 L676.0,170.6 L676.2,172.4 L676.4,174.3 L676.7,176.1 L676.9,178.0 L677.1,179.8 L677.3,181.7 L677.5,183.5 L677.7,185.4 L677.8,187.2 L678.0,189.1 L678.2,190.9 L678.4,192.8 L678.6,194.6 L678.8,196.5 L679.0,198.3 L679.1,200.2 L679.3,202.0 L679.5,203.9 L679.7,205.8 L679.9,207.6 L680.0,209.5 L680.2,211.3 L680.4,213.2 L680.5,215.0 L680.7,216.9 L680.9,218.8 L681.0,220.6 L681.2,222.5 L681.3,224.3 L681.5,226.2 L681.6,228.0 L681.8,229.9 L681.9,231.7 L682.1,233.6 L682.2,235.4 L682.4,237.2 L682.5,239.1 L682.6,240.9 L682.8,242.9 L683.0,244.7 L683.1,246.5 L683.3,248.4 L683.5,250.3 L683.6,252.3 L683.8,254.2 L684.0,256.1 L684.1,258.1 L684.3,260.0 L684.4,261.9 L684.6,263.8 L684.7,265.6 L684.8,267.4 L685.0,269.3 L685.1,271.2 L685.2,273.2 L685.4,275.4 L685.5,277.6 L685.6,279.2 L685.7,281.0 L685.8,282.7 L686.0,284.6 L686.1,286.5 L686.2,288.4 L686.3,290.4 L686.5,292.4 L686.6,294.5 L686.8,296.6 L686.9,298.6 L687.0,300.7 L687.2,302.8 L687.3,304.9 L687.4,307.0 L687.6,309.1 L687.7,311.2 L687.9,313.2 L688.0,315.2 L688.1,317.2 L688.3,319.2 L688.4,321.1 L688.6,323.1 L688.7,325.1 L688.8,327.0 L689.0,329.0 L689.1,331.0 L689.3,333.0 L689.4,334.9 L689.6,336.9 L689.7,338.9 L689.9,340.9 L690.0,342.8 L690.1,344.8 L690.3,346.8 L690.4,348.8 L690.6,350.7 L690.7,352.7 L690.8,354.7 L691.0,356.7 L691.1,358.7 L691.2,360.8 L691.4,362.8 L691.5,364.9 L691.6,367.0 L691.8,369.1 L691.9,371.1 L692.0,373.2 L692.1,375.2 L692.3,377.2 L692.4,379.2 L692.5,381.1 L692.7,383.0 L692.8,384.8 L692.9,386.6 L693.1,388.3 L693.2,390.0 L693.4,392.2 L693.6,394.4 L693.8,396.6 L694.0,398.8 L694.3,400.8 L694.5,402.8 L694.7,404.6 L694.8,406.2 L695.0,407.6 L695.1,408.8 L695.3,410.5 L695.4,411.8 L695.6,413.3 L695.7,414.8 L695.9,416.3 L696.0,417.8 L696.2,419.2 L696.3,420.7 L696.5,422.2 L696.6,423.7 L696.8,425.2 L696.9,426.7 L697.1,428.2 L697.2,429.7 L697.4,431.2 L697.6,432.7 L697.7,434.2 L697.9,435.7 L698.0,437.2 L698.2,438.7 L698.3,440.1 L698.5,441.6 L698.6,443.1 L698.8,444.6 L699.0,446.1 L699.1,447.6 L699.3,449.1 L699.4,450.6 L699.6,452.1 L699.8,453.6 L699.9,455.1 L700.1,456.6 L700.2,458.0 L700.4,459.5 L700.6,461.0 L700.7,462.5 L700.9,464.0 L701.1,465.5 L701.2,467.0 L701.4,468.5 L701.6,470.0 L701.7,471.5 L701.9,473.0 L702.1,474.5 L702.2,475.9 L702.4,477.4 L702.6,478.9 L702.7,480.4 L702.9,481.9 L703.1,483.4 L703.3,484.9 L703.4,486.4 L703.6,487.9 L703.8,489.4 L704.0,490.8 L704.2,492.3 L704.3,493.8 L704.5,495.3 L704.7,496.8 L704.9,498.3 L705.1,499.8 L705.3,501.3 L705.4,502.8 L705.6,504.2 L705.8,505.7 L706.0,507.2 L706.2,508.7 L706.4,510.2 L706.6,511.7 L706.8,513.2 L707.0,514.7 L707.2,516.1 L707.4,517.6 L707.6,519.1 L707.8,520.6 L708.0,522.1 L708.2,523.6 L708.4,525.1 L708.6,526.5 L708.8,528.0 L709.0,529.5 L709.2,531.0 L709.4,532.5 L709.6,534.0 L709.8,535.4 L710.1,536.9 L710.3,538.4 L710.5,539.9 L710.7,541.4 L710.9,542.9 L711.2,544.3 L711.4,545.8 L711.6,547.3 L711.8,548.8 L712.1,550.3 L712.3,551.8 L712.5,553.2 L712.7,554.7 L713.0,556.2 L713.2,557.7 L713.5,559.2 L713.7,560.6 L713.9,562.1 L714.2,563.6 L714.4,565.1 L714.7,566.6 L714.9,568.0 L715.2,569.5 L715.4,571.0 L715.7,572.5 L715.9,573.9 L716.2,575.4 L716.5,576.9 L716.7,578.4 L717.0,579.8 L717.2,581.3 L717.5,582.8 L717.8,584.3 L718.0,585.7 L718.3,587.2 L718.6,588.7 L718.9,590.2 L719.2,591.6 L719.4,593.1 L719.7,594.6 L720.0,596.0 L720.3,597.5 L720.6,599.0 L720.9,600.5 L721.2,601.9 L721.5,603.4 L721.8,604.9 L722.1,606.3 L722.4,607.8 L722.7,609.3 L723.0,610.7 L723.3,612.2 L723.6,613.7 L723.9,615.1 L724.2,616.6 L724.5,618.1 L724.9,619.5 L725.2,621.0 L725.5,622.5 L725.8,623.9 L726.2,625.4 L726.5,626.9 L726.8,628.3 L727.2,629.8 L727.5,631.2 L727.8,632.7 L728.2,634.2 L728.5,635.6 L728.9,637.1 L729.2,638.6 L729.6,640.0 L729.9,641.5 L730.3,642.9 L730.7,644.4 L731.0,645.8 L731.4,647.3 L731.8,648.8 L732.1,650.2 L732.5,651.7 L732.9,653.1 L733.3,654.6 L733.7,656.0 L734.1,657.5 L734.4,658.9 L734.8,660.4 L735.2,661.8 L735.6,663.3 L736.0,664.7 L736.4,666.2 L736.8,667.6 L737.3,669.1 L737.7,670.5 L738.1,672.0 L738.5,673.4 L738.9,674.9 L739.4,676.3 L739.8,677.8 L740.2,679.2 L740.7,680.6 L741.1,682.1 L741.6,683.5 L742.0,684.9 L742.5,686.4 L742.9,687.8 L743.4,689.2 L743.9,690.7 L744.4,692.1 L744.8,693.5 L745.3,694.9 L745.8,696.3 L746.3,697.8 L746.8,699.2 L747.3,700.6 L747.8,702.0 L748.3,703.4 L748.8,704.8 L749.4,706.2 L749.9,707.6 L750.4,709.0 L751.0,710.4 L751.5,711.8 L752.1,713.2 L752.6,714.6 L753.2,716.0 L753.8,717.4 L754.3,718.8 L754.9,720.1 L755.5,721.5 L756.1,722.9 L756.7,724.3 L757.3,725.6 L757.9,727.0 L758.5,728.4 L759.1,729.7 L759.8,731.1 L760.4,732.4 L761.1,733.8 L761.7,735.1 L762.4,736.5 L763.0,737.8 L763.7,739.1 L764.4,740.5 L765.1,741.8 L765.8,743.1 L766.4,744.5 L767.2,745.8 L767.9,747.1 L768.6,748.4 L769.3,749.7 L770.1,751.0 L770.8,752.3 L771.5,753.6 L772.3,754.9 L773.1,756.2 L773.8,757.5 L774.6,758.8 L775.4,760.0 L776.2,761.3 L777.0,762.6 L777.8,763.8 L778.7,765.1 L779.5,766.3 L780.3,767.6 L781.2,768.8 L782.0,770.1 L782.9,771.3 L783.7,772.5 L784.6,773.7 L785.5,775.0 L786.4,776.2 L787.3,777.4 L788.2,778.6 L789.1,779.8 L790.0,781.0 L790.9,782.2 L791.8,783.3 L792.8,784.5 L793.7,785.7 L794.7,786.9 L795.6,788.0 L796.6,789.2 L797.6,790.3 L798.5,791.4 L799.5,792.6 L800.5,793.7 L801.5,794.8 L802.5,795.9 L803.5,797.1 L804.6,798.2 L805.6,799.3 L806.6,800.3 L807.7,801.4 L808.7,802.5 L809.8,803.6 L810.8,804.6 L811.9,805.7 L813.0,806.7 L814.0,807.8 L815.1,808.8 L816.2,809.8 L817.3,810.9 L818.4,811.9 L819.5,812.9 L820.6,813.9 L821.8,814.9 L822.9,815.9 L824.0,816.8 L825.2,817.8 L826.3,818.8 L827.5,819.7 L828.6,820.7 L829.8,821.6 L831.0,822.5 L832.1,823.4 L833.3,824.4 L834.5,825.3 L835.7,826.2 L836.9,827.1 L838.1,827.9 L839.3,828.8 L840.6,829.7 L841.8,830.5 L843.0,831.4 L844.2,832.2 L845.5,833.0 L846.7,833.9 L848.0,834.7 L849.2,835.5 L850.5,836.3 L851.8,837.1 L853.0,837.9 L854.3,838.6 L855.6,839.4 L856.9,840.2 L858.2,840.9 L859.5,841.7 L860.8,842.4 L862.1,843.1 L863.4,843.9 L864.7,844.6 L866.0,845.3 L867.3,846.0 L868.7,846.7 L870.0,847.4 L871.3,848.1 L872.7,848.8 L874.0,849.4 L875.3,850.1 L876.7,850.7 L878.0,851.4 L879.4,852.0 L880.8,852.7 L882.1,853.3 L883.5,853.9 L884.9,854.5 L886.2,855.2 L887.6,855.8 L889.0,856.4 L890.4,857.0 L891.8,857.5 L893.1,858.1 L894.5,858.7 L895.9,859.3 L897.3,859.8 L898.7,860.4 L900.1,860.9 L901.5,861.5 L902.9,862.0 L904.3,862.5 L905.8,863.1 L907.2,863.6 L908.6,864.1 L910.0,864.6 L911.4,865.1 L912.8,865.6 L914.3,866.1 L915.7,866.6 L917.1,867.1 L918.5,867.6 L920.0,868.1 L921.4,868.5 L922.8,869.0 L924.3,869.5 L925.7,869.9 L927.1,870.4 L928.6,870.8 L930.0,871.3 L931.5,871.7 L932.9,872.1 L934.3,872.5 L935.8,873.0 L937.2,873.4 L938.7,873.8 L940.1,874.2 L941.6,874.6 L943.0,875.0 L944.5,875.4 L945.9,875.8 L947.4,876.2 L948.8,876.6 L950.3,877.0 L951.7,877.3 L953.2,877.7 L954.6,878.1 L956.1,878.4 L957.5,878.8 L959.0,879.2 L960.4,879.5 L961.9,879.9 L963.4,880.2 L964.8,880.5 L966.3,880.9 L967.7,881.2 L969.2,881.6 L970.7,881.9 L972.1,882.2 L973.6,882.5 L975.1,882.8 L976.5,883.2 L978.0,883.5 L979.5,883.8 L980.9,884.1 L982.4,884.4 L983.9,884.7 L985.3,885.0 L986.8,885.3 L988.3,885.5 L989.7,885.8 L991.2,886.1 L992.7,886.4 L994.2,886.7 L995.6,886.9 L997.1,887.2 L998.6,887.5 L1000.1,887.7 L1001.5,888.0 L1003.0,888.2 L1004.5,888.5 L1006.0,888.8 L1007.4,889.0 L1008.9,889.3 L1010.4,889.5 L1011.9,889.7 L1013.4,890.0 L1014.8,890.2 L1016.3,890.5 L1017.8,890.7 L1019.3,890.9 L1020.8,891.2 L1022.3,891.4 L1023.7,891.6 L1025.2,891.8 L1026.7,892.0 L1028.2,892.3 L1029.7,892.5 L1031.2,892.7 L1032.6,892.9 L1034.1,893.1 L1035.6,893.3 L1037.1,893.5 L1038.6,893.7 L1040.1,894.0 L1041.6,894.2 L1043.1,894.4 L1044.6,894.6 L1046.0,894.8 L1047.5,895.0 L1049.0,895.2 L1050.5,895.4 L1052.0,895.6 L1053.5,895.8 L1055.0,896.0 L1056.5,896.2 L1058.0,896.4 L1059.4,896.6 L1060.9,896.8 L1062.4,897.0 L1063.9,897.2 L1065.4,897.4 L1066.9,897.6 L1068.4,897.8 L1069.9,898.0 L1071.3,898.2 L1072.8,898.4 L1074.3,898.6 L1075.8,898.9 L1077.3,899.1 L1078.8,899.3 L1080.3,899.5 L1081.7,899.7 L1083.2,899.9 L1084.7,900.2 L1086.2,900.4 L1087.7,900.6 L1089.2,900.8 L1090.6,901.1 L1092.1,901.3 L1093.6,901.5 L1095.1,901.8 L1096.6,902.0 L1098.0,902.3 L1099.5,902.5 L1101.0,902.8 L1102.5,903.0 L1103.9,903.3 L1105.4,903.6 L1106.9,903.8 L1108.3,904.1 L1109.8,904.4 L1111.3,904.7 L1112.8,904.9 L1114.2,905.2 L1115.7,905.5 L1117.1,905.8 L1118.6,906.1 L1120.1,906.4 L1121.5,906.7 L1123.0,907.1 L1124.5,907.4 L1125.9,907.7 L1127.4,908.0 L1128.8,908.4 L1130.3,908.7 L1131.7,909.1 L1133.2,909.4 L1134.6,909.8 L1136.1,910.1 L1137.5,910.5 L1139.0,910.9 L1140.4,911.2 L1141.9,911.6 L1143.3,912.0 L1144.8,912.4 L1146.2,912.8 L1147.6,913.2 L1149.1,913.6 L1150.5,914.0 L1152.0,914.4 L1153.4,914.8 L1154.8,915.2 L1156.3,915.6 L1157.7,916.0 L1159.1,916.5 L1160.6,916.9 L1162.0,917.3 L1163.4,917.8 L1164.9,918.2 L1166.3,918.7 L1167.7,919.1 L1169.1,919.6 L1170.6,920.0 L1172.0,920.5 L1173.4,921.0 L1174.8,921.4 L1176.3,921.9 L1177.7,922.4 L1179.1,922.8 L1180.5,923.3 L1182.0,923.8 L1183.4,924.3 L1184.8,924.8 L1186.2,925.3 L1187.6,925.8 L1189.0,926.3 L1190.5,926.7 L1191.9,927.2 L1193.3,927.7 L1194.7,928.2 L1196.1,928.7 L1197.6,929.2 L1199.0,929.7 L1200.4,930.2 L1201.8,930.7 L1203.2,931.2 L1204.6,931.7 L1206.1,932.2 L1207.5,932.7 L1208.9,933.2 L1210.3,933.6 L1211.7,934.1 L1213.2,934.6 L1214.6,935.1 L1216.0,935.6 L1217.4,936.1 L1218.9,936.5 L1220.3,937.0 L1221.7,937.5 L1223.1,937.9 L1224.6,938.4 L1226.0,938.8 L1227.4,939.3 L1228.8,939.8 L1230.3,940.2 L1231.7,940.6 L1233.1,941.1 L1234.6,941.5 L1236.0,942.0 L1237.4,942.4 L1238.9,942.8 L1240.3,943.2 L1241.7,943.6 L1243.2,944.1 L1244.6,944.5 L1246.1,944.9 L1247.5,945.3 L1248.9,945.7 L1250.4,946.1 L1251.8,946.4 L1253.3,946.8 L1254.7,947.2 L1256.2,947.6 L1257.6,948.0 L1259.1,948.3 L1260.5,948.7 L1262.0,949.0 L1263.4,949.4 L1264.9,949.7 L1266.3,950.1 L1267.8,950.4 L1269.2,950.7 L1270.7,951.1 L1272.1,951.4 L1273.6,951.7 L1275.1,952.0 L1276.5,952.3 L1278.0,952.6 L1279.4,952.9 L1280.9,953.2 L1282.4,953.5 L1283.8,953.8 L1285.3,954.0 L1286.8,954.3 L1288.2,954.6 L1289.7,954.8 L1291.2,955.1 L1292.7,955.3 L1294.1,955.5 L1295.6,955.8 L1297.1,956.0 L1298.6,956.2 L1300.0,956.4 L1301.5,956.6 L1303.0,956.8 L1304.5,957.0 L1306.0,957.2 L1307.4,957.4 L1308.9,957.6 L1310.4,957.7 L1311.9,957.9 L1313.4,958.0 L1314.9,958.2 L1316.4,958.3 L1317.9,958.5 L1319.4,958.6 L1320.8,958.7 L1322.3,958.8 L1323.8,958.9 L1325.3,959.1 L1326.8,959.2 L1328.3,959.2 L1329.8,959.3 L1331.3,959.4 L1332.8,959.5 L1334.3,959.6 L1335.8,959.7 L1337.3,959.7 L1338.8,959.8 L1340.3,959.8 L1341.8,959.9 L1343.4,960.0 L1344.9,960.0 L1346.4,960.0 L1347.9,960.1 L1349.4,960.1 L1350.9,960.2 L1352.4,960.2 L1353.9,960.2 L1355.4,960.2 L1356.9,960.3 L1358.4,960.3 L1359.9,960.3 L1361.4,960.3 L1362.9,960.3 L1364.4,960.4 L1366.0,960.4 L1367.5,960.4 L1369.0,960.4 L1370.5,960.4 L1372.0,960.4 L1373.5,960.4 L1375.0,960.4 L1376.5,960.4 L1378.0,960.4 L1379.5,960.4 L1381.0,960.4 L1382.5,960.4 L1384.0,960.4 L1385.5,960.4 L1387.0,960.4 L1388.5,960.4 L1390.1,960.4 L1391.6,960.4 L1393.1,960.4 L1394.6,960.4 L1396.1,960.5 L1397.6,960.5 L1399.1,960.5 L1400.6,960.5 L1402.1,960.5 L1403.5,960.5 L1405.0,960.5 L1406.6,960.5 L1408.0,960.6 L1409.3,960.6 L1410.5,960.6" fill="none" stroke="#0000ff" stroke-width="4.6" stroke-linecap="round" stroke-linejoin="round"/>
<rect x="172.4" y="20.3" width="1297.5" height="1044.7" fill="none" stroke="#000" stroke-width="4.2"/>
<line x1="230.4" y1="1065.0" x2="230.4" y2="1045.0" stroke="#000" stroke-width="4.2"/>
<line x1="289.4" y1="1065.0" x2="289.4" y2="1055.5" stroke="#000" stroke-width="4.2"/>
<line x1="348.4" y1="1065.0" x2="348.4" y2="1045.0" stroke="#000" stroke-width="4.2"/>
<line x1="407.4" y1="1065.0" x2="407.4" y2="1055.5" stroke="#000" stroke-width="4.2"/>
<line x1="466.5" y1="1065.0" x2="466.5" y2="1045.0" stroke="#000" stroke-width="4.2"/>
<line x1="525.5" y1="1065.0" x2="525.5" y2="1055.5" stroke="#000" stroke-width="4.2"/>
<line x1="584.5" y1="1065.0" x2="584.5" y2="1045.0" stroke="#000" stroke-width="4.2"/>
<line x1="643.5" y1="1065.0" x2="643.5" y2="1055.5" stroke="#000" stroke-width="4.2"/>
<line x1="702.5" y1="1065.0" x2="702.5" y2="1045.0" stroke="#000" stroke-width="4.2"/>
<line x1="761.5" y1="1065.0" x2="761.5" y2="1055.5" stroke="#000" stroke-width="4.2"/>
<line x1="820.5" y1="1065.0" x2="820.5" y2="1045.0" stroke="#000" stroke-width="4.2"/>
<line x1="879.6" y1="1065.0" x2="879.6" y2="1055.5" stroke="#000" stroke-width="4.2"/>
<line x1="938.6" y1="1065.0" x2="938.6" y2="1045.0" stroke="#000" stroke-width="4.2"/>
<line x1="997.6" y1="1065.0" x2="997.6" y2="1055.5" stroke="#000" stroke-width="4.2"/>
<line x1="1056.6" y1="1065.0" x2="1056.6" y2="1045.0" stroke="#000" stroke-width="4.2"/>
<line x1="1115.6" y1="1065.0" x2="1115.6" y2="1055.5" stroke="#000" stroke-width="4.2"/>
<line x1="1174.6" y1="1065.0" x2="1174.6" y2="1045.0" stroke="#000" stroke-width="4.2"/>
<line x1="1233.7" y1="1065.0" x2="1233.7" y2="1055.5" stroke="#000" stroke-width="4.2"/>
<line x1="1292.7" y1="1065.0" x2="1292.7" y2="1045.0" stroke="#000" stroke-width="4.2"/>
<line x1="1351.7" y1="1065.0" x2="1351.7" y2="1055.5" stroke="#000" stroke-width="4.2"/>
<line x1="1410.7" y1="1065.0" x2="1410.7" y2="1045.0" stroke="#000" stroke-width="4.2"/>
<line x1="172.4" y1="1016.7" x2="181.9" y2="1016.7" stroke="#000" stroke-width="4.2"/>
<line x1="172.4" y1="964.0" x2="192.4" y2="964.0" stroke="#000" stroke-width="4.2"/>
<line x1="172.4" y1="911.3" x2="181.9" y2="911.3" stroke="#000" stroke-width="4.2"/>
<line x1="172.4" y1="858.5" x2="192.4" y2="858.5" stroke="#000" stroke-width="4.2"/>
<line x1="172.4" y1="805.8" x2="181.9" y2="805.8" stroke="#000" stroke-width="4.2"/>
<line x1="172.4" y1="753.0" x2="192.4" y2="753.0" stroke="#000" stroke-width="4.2"/>
<line x1="172.4" y1="700.3" x2="181.9" y2="700.3" stroke="#000" stroke-width="4.2"/>
<line x1="172.4" y1="647.6" x2="192.4" y2="647.6" stroke="#000" stroke-width="4.2"/>
<line x1="172.4" y1="594.8" x2="181.9" y2="594.8" stroke="#000" stroke-width="4.2"/>
<line x1="172.4" y1="542.1" x2="192.4" y2="542.1" stroke="#000" stroke-width="4.2"/>
<line x1="172.4" y1="489.4" x2="181.9" y2="489.4" stroke="#000" stroke-width="4.2"/>
<line x1="172.4" y1="436.6" x2="192.4" y2="436.6" stroke="#000" stroke-width="4.2"/>
<line x1="172.4" y1="383.9" x2="181.9" y2="383.9" stroke="#000" stroke-width="4.2"/>
<line x1="172.4" y1="331.1" x2="192.4" y2="331.1" stroke="#000" stroke-width="4.2"/>
<line x1="172.4" y1="278.4" x2="181.9" y2="278.4" stroke="#000" stroke-width="4.2"/>
<line x1="172.4" y1="225.7" x2="192.4" y2="225.7" stroke="#000" stroke-width="4.2"/>
<line x1="172.4" y1="172.9" x2="181.9" y2="172.9" stroke="#000" stroke-width="4.2"/>
<line x1="172.4" y1="120.2" x2="192.4" y2="120.2" stroke="#000" stroke-width="4.2"/>
<line x1="172.4" y1="67.5" x2="181.9" y2="67.5" stroke="#000" stroke-width="4.2"/>
<g font-family="'Liberation Serif', 'Times New Roman', serif" style="font-kerning:none" font-size="48" fill="#000">
<text transform="translate(231.3 1121.8) scale(0.925 1)" text-anchor="middle">0</text>
<text transform="translate(349.3 1121.8) scale(0.925 1)" text-anchor="middle">10</text>
<text transform="translate(467.4 1121.8) scale(0.925 1)" text-anchor="middle">20</text>
<text transform="translate(585.4 1121.8) scale(0.925 1)" text-anchor="middle">30</text>
<text transform="translate(703.4 1121.8) scale(0.925 1)" text-anchor="middle">40</text>
<text transform="translate(821.4 1121.8) scale(0.925 1)" text-anchor="middle">50</text>
<text transform="translate(939.5 1121.8) scale(0.925 1)" text-anchor="middle">60</text>
<text transform="translate(1057.5 1121.8) scale(0.925 1)" text-anchor="middle">70</text>
<text transform="translate(1175.5 1121.8) scale(0.925 1)" text-anchor="middle">80</text>
<text transform="translate(1293.6 1121.8) scale(0.925 1)" text-anchor="middle">90</text>
<text transform="translate(1411.6 1121.8) scale(0.925 1)" text-anchor="middle">100</text>
<text transform="translate(149.4 978.0) scale(0.925 1)" text-anchor="end">0</text>
<text transform="translate(149.4 872.5) scale(0.925 1)" text-anchor="end">25</text>
<text transform="translate(149.4 767.0) scale(0.925 1)" text-anchor="end">50</text>
<text transform="translate(149.4 661.6) scale(0.925 1)" text-anchor="end">75</text>
<text transform="translate(149.4 556.1) scale(0.925 1)" text-anchor="end">100</text>
<text transform="translate(149.4 450.6) scale(0.925 1)" text-anchor="end">125</text>
<text transform="translate(149.4 345.1) scale(0.925 1)" text-anchor="end">150</text>
<text transform="translate(149.4 239.7) scale(0.925 1)" text-anchor="end">175</text>
<text transform="translate(149.4 134.2) scale(0.925 1)" text-anchor="end">200</text>
</g>
<g font-family="'Liberation Serif', 'Times New Roman', serif" style="font-kerning:none" font-size="54" fill="#000">
<text x="820.6" y="1206.4" text-anchor="middle">X(mm)</text>
<text transform="translate(59.8 542.8) rotate(-90)" text-anchor="middle" font-size="54.4">Velocity(m/s)</text>
<text x="310.2" y="87.4">Nozzle length</text>
<line x1="1095" y1="86.7" x2="1216" y2="86.7" stroke="#000000" stroke-width="5" stroke-linecap="round"/>
<text x="1231.3" y="105.2" xml:space="preserve"> 5MPa</text>
<line x1="1095" y1="153.4" x2="1216" y2="153.4" stroke="#ff0000" stroke-width="5" stroke-linecap="round"/>
<text x="1231.3" y="171.9" xml:space="preserve">10MPa</text>
<line x1="1095" y1="220.1" x2="1216" y2="220.1" stroke="#00ff00" stroke-width="5" stroke-linecap="round"/>
<text x="1231.3" y="238.6" xml:space="preserve">15MPa</text>
<line x1="1095" y1="286.8" x2="1216" y2="286.8" stroke="#0000ff" stroke-width="5" stroke-linecap="round"/>
<text x="1231.3" y="305.3" xml:space="preserve">20MPa</text>
</g>
<g stroke="#333" stroke-width="2.2" fill="#000">
<line x1="250" y1="63.2" x2="297.7" y2="63.2"/>
<polygon points="233.3,63.2 252.6,56.6 252.6,69.8" stroke="none"/>
<line x1="639.2" y1="67.4" x2="680" y2="67.4"/>
<polygon points="697.8,67.4 678.5,60.8 678.5,74" stroke="none"/>
</g>
</svg>
</body></html>
